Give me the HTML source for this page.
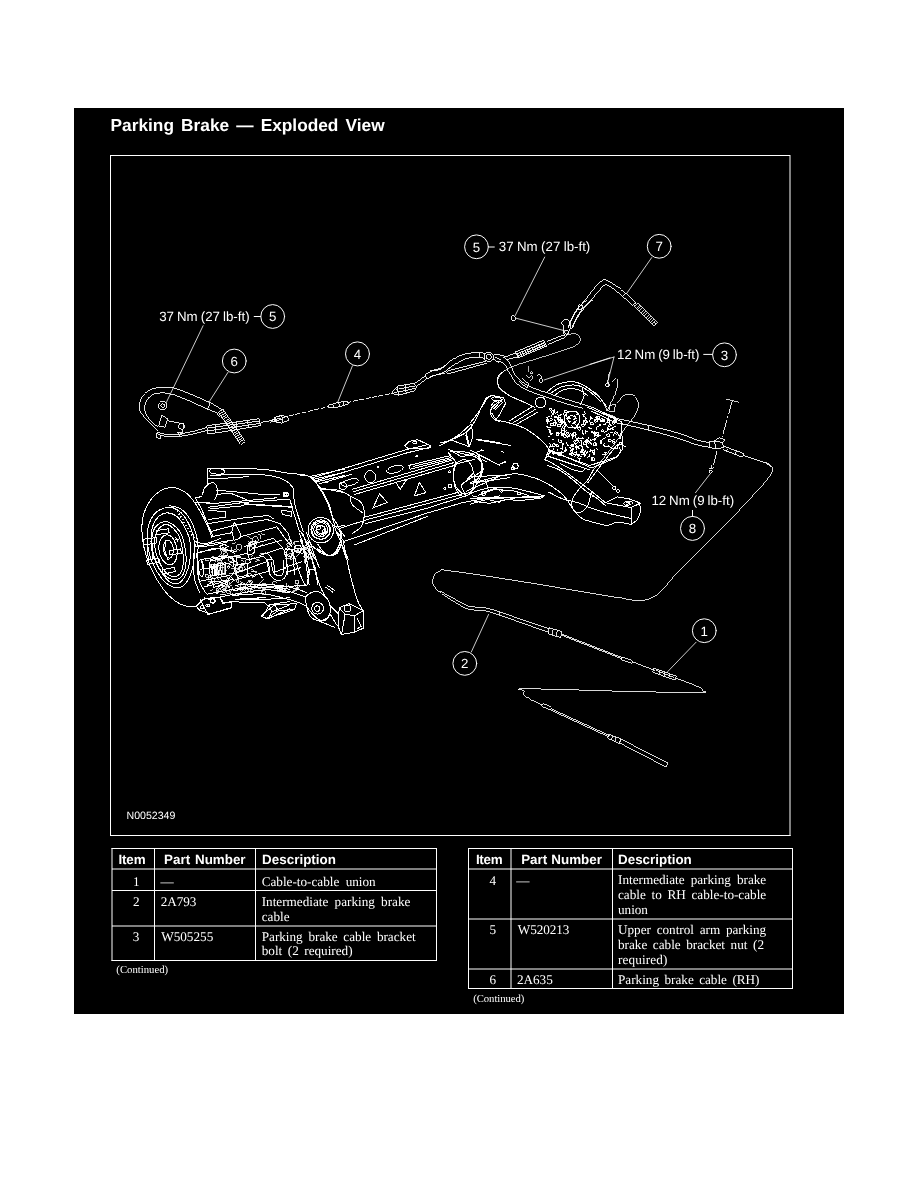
<!DOCTYPE html>
<html><head><meta charset="utf-8">
<style>
html,body{margin:0;padding:0;background:#fff;}
body{width:918px;height:1188px;position:relative;overflow:hidden;font-family:"Liberation Sans",sans-serif;color:#fff;}
#panel{position:absolute;left:74px;top:108px;width:770px;height:906px;background:#000;}
#dia{position:absolute;left:0;top:0;width:918px;height:1188px;}
text{white-space:pre;}
.s{font-family:"Liberation Sans",sans-serif;}
.sb{font-family:"Liberation Sans",sans-serif;font-weight:bold;}
.r{font-family:"Liberation Serif",serif;}
</style></head><body>
<div id="panel"></div>
<svg id="dia" viewBox="0 0 918 1188" fill="none" stroke="#fff" stroke-width="1" stroke-linecap="round" stroke-linejoin="round">
<g id="frame" shape-rendering="auto" stroke-linecap="butt">
<path d="M110.5 155.5H790 M110.5 155V836 M110 835.5H790.5"/>
<path d="M790 155V836"/>
</g>
<g id="tl" stroke-linecap="butt">
<!-- left table -->
<path d="M111.5 848.5H437 M111.5 960.5H437 M112 848V961 M436.5 848V961 M154.5 848V961 M255.5 848V961"/>
<path d="M112 869H437 M112 890.5H437 M112 926H437"/>
<!-- right table -->
<path d="M468 848.5H793 M468 988.5H793 M468.5 848V989 M792.5 848V989 M511 848V989 M612.5 848V989"/>
<path d="M468 869H793 M468 919H793 M468 969H793"/>
</g>
<g id="art" shape-rendering="crispEdges" stroke-linejoin="miter" stroke-linecap="butt"><!-- 01_callouts.py -->
<circle cx="272.7" cy="316.5" r="11.9" stroke-width="1" shape-rendering="geometricPrecision" stroke-linecap="round" stroke-linejoin="round"/>
<circle cx="234.3" cy="361" r="11.9" stroke-width="1" shape-rendering="geometricPrecision" stroke-linecap="round" stroke-linejoin="round"/>
<path d="M254.2 316.5 L260.8 316.5" stroke-width="1" shape-rendering="geometricPrecision" stroke-linecap="round" stroke-linejoin="round"/>
<path d="M203.1 325.7 L166.1 402.9" stroke-width="0.8" shape-rendering="geometricPrecision" stroke-linecap="round" stroke-linejoin="round"/>
<path d="M228 372.3 L208.8 402.4" stroke-width="0.8" shape-rendering="geometricPrecision" stroke-linecap="round" stroke-linejoin="round"/>
<!-- 10_cable6.py -->
<path d="M158.6 431.3 C156.6 429.2 149.5 422.4 146.3 419 C143.2 415.6 140.9 413.6 139.8 410.8 C138.7 408.1 139 405.5 139.8 402.7 C140.6 399.8 142.3 396.1 144.7 393.7 C147.2 391.2 150.4 389.1 154.5 388 C158.6 386.9 165.1 386.9 169.2 387.2 C173.3 387.4 174.7 388.1 179 389.6 C183.4 391.1 190.2 394 195.4 396.1 C200.5 398.3 205.7 400.5 210.1 402.7 C214.4 404.9 219.6 408.1 221.5 409.2" stroke-width="0.9"/>
<path d="M157.8 427.2 C156.1 425.6 150.2 420.4 148 417.4 C145.8 414.4 145 411.9 144.7 409.2 C144.4 406.5 145 403.5 146.3 401 C147.7 398.6 150.2 395.9 152.9 394.5 C155.6 393.1 159.4 392.9 162.7 392.9 C165.9 392.9 168.9 393.6 172.5 394.5 C176 395.5 179.6 396.8 183.9 398.6 C188.3 400.4 194.7 403.4 198.6 405.1 C202.6 406.9 204.6 407.9 207.6 409.2 C210.6 410.5 215.1 412.2 216.6 412.8" stroke-width="0.9"/>
<path d="M210.1 402.7 L207.6 409.2" stroke-width="0.9"/>
<circle cx="162.7" cy="405.6" r="4.1" stroke-width="0.9"/>
<circle cx="162.7" cy="405.6" r="1.8" stroke-width="0.9"/>
<path d="M218.4 412.4 L240.5 444.3 L245 441.1 L223 409.3 Z M219.6 414.2 L224.2 411 M220.9 416 L225.4 412.8 M222.1 417.7 L226.6 414.6 M223.3 419.5 L227.9 416.3 M224.5 421.3 L229.1 418.1 M225.8 423.1 L230.3 419.9 M227 424.8 L231.5 421.7 M228.2 426.6 L232.8 423.4 M229.4 428.4 L234 425.2 M230.7 430.1 L235.2 427 M231.9 431.9 L236.5 428.7 M233.1 433.7 L237.7 430.5 M234.3 435.4 L238.9 432.3 M235.6 437.2 L240.1 434.1 M236.8 439 L241.4 435.8 M238 440.8 L242.6 437.6 M239.2 442.5 L243.8 439.4" stroke-width="0.9"/>
<path d="M216.6 412.8 L219.1 416.6" stroke-width="0.9"/>
<path d="M157 432.1 C158.7 432.5 163.9 434.2 167.6 434.5 C171.3 434.9 174.4 434.7 179 434.1 C183.6 433.4 190.7 431.9 195.4 430.8 C200 429.7 204.9 428.1 206.8 427.5" stroke-width="0.9"/>
<path d="M158.6 434.5 C160.1 434.9 163.9 436.4 167.6 436.7 C171.3 436.9 176 436.7 180.7 436.2 C185.3 435.6 191 434.4 195.4 433.4 C199.7 432.4 204.9 430.9 206.8 430.5" stroke-width="0.9"/>
<path d="M206.8 425.6 L228 423.1 L259.1 418.7 L260.7 425.6 L229.7 430.8 L207.6 434.1 Z" stroke-width="0.9"/>
<path d="M208.4 428 L259.9 421" stroke-width="0.9"/>
<path d="M208.4 430.8 L260.4 423.3" stroke-width="0.9"/>
<path d="M215 424.7 L215.8 432.9" stroke-width="0.9"/>
<path d="M236.2 422 L237 429.6" stroke-width="0.9"/>
<path d="M247.6 420.3 L248.5 427.5" stroke-width="0.9"/>
<path d="M260.7 422.3 C262.1 422.1 266.2 421.5 268.9 421 C271.6 420.4 275.7 419.3 277.1 419" stroke-width="0.9"/>
<path d="M274.6 417.4 L280 416.1" stroke-width="0.9"/>
<path d="M274.6 421.5 L280 422.6" stroke-width="0.9"/>
<path d="M274.6 417.4 L274.6 421.5" stroke-width="0.9"/>
<path d="M161.9 414.9 L167.6 419 L165.1 427.2 L158.6 426.4 Z" stroke-width="0.9"/>
<path d="M167.6 420.7 L183.9 423.9 L182.3 432.9 L177.4 432.1" stroke-width="0.9"/>
<circle cx="181.5" cy="426.4" r="2.9" stroke-width="0.9"/>
<path d="M156.1 432.9 L161 435.4 L160.2 439.4 L156.1 437 Z" stroke-width="0.9"/>
<path d="M177.4 432.1 L179 435.4 L182.3 434.5" stroke-width="0.9"/>
<!-- 11_cable4.py -->
<circle cx="357.5" cy="353.9" r="12" stroke-width="1" shape-rendering="geometricPrecision" stroke-linecap="round" stroke-linejoin="round"/>
<path d="M352.4 365.9 L337.6 402.5" stroke-width="0.8" shape-rendering="geometricPrecision" stroke-linecap="round" stroke-linejoin="round"/>
<g stroke-dasharray="5 1.5">
<path d="M270 420.6 L328.8 406.5" stroke-width="0.9"/>
<path d="M346.5 402.5 L395.5 392.7" stroke-width="0.9"/>
</g>
<path d="M270 422.2 L281.8 419.2" stroke-width="0.9"/>
<path d="M274.9 417.3 L281.8 415.3 L287.6 417.3 L288.6 420.2 L281.8 423.1 L275.9 422.2 Z" stroke-width="0.9"/>
<path d="M281.8 415.3 L282.7 423.1" stroke-width="0.9"/>
<path d="M327.8 405.5 L338.6 402.2 L347.5 401.6 L348.4 404.1 L338.6 406.9 L328.8 408 Z" stroke-width="0.9"/>
<path d="M332.7 404.1 L333.7 407.5" stroke-width="0.9"/>
<path d="M338.6 402.2 L339.6 406.9" stroke-width="0.9"/>
<path d="M343.5 402 L344.1 405.5" stroke-width="0.9"/>
<path d="M392.5 390.8 L397.5 385.9 L413.1 383.3 L417.1 386.9 L414.1 390.8 L397.5 395.1 L393.5 394.3 Z" stroke-width="0.9"/>
<path d="M397.5 385.9 L398.4 394.7" stroke-width="0.9"/>
<path d="M405.3 384.5 L406.3 393.1" stroke-width="0.9"/>
<path d="M399.4 388.8 L415.1 385.9" stroke-width="0.9"/>
<path d="M399.4 391.8 L415.1 388.4" stroke-width="0.9"/>
<path d="M395.5 388.8 L397.5 390.8 L395.5 392.7" stroke-width="0.9"/>
<path d="M414.1 383.9 L425.9 375.5" stroke-width="0.9"/>
<path d="M416.1 386.5 L426.9 378.6" stroke-width="0.9"/>
<path d="M424.9 374.7 C426.2 374.1 430.1 371.7 432.7 370.8 C435.4 369.9 437.7 370.8 440.6 369.2 C443.5 367.6 448.4 362.7 450 361.4" stroke-width="0.9"/>
<path d="M426.9 379 C428.2 378.4 431.9 376.5 434.7 375.5 C437.5 374.5 441 374.5 443.5 373.1 C446.1 371.8 448.9 368.2 450 367.3" stroke-width="0.9"/>
<path d="M424.9 374.7 L426.9 379" stroke-width="0.9"/>
<!-- 12_center_top.py -->
<path d="M430 371 C432 370.4 437.8 369.7 441.8 367.6 C445.7 365.6 449.6 361.1 453.5 358.8 C457.5 356.5 461 355 465.3 353.9 C469.5 352.9 475.6 352.5 479 352.5 C482.5 352.5 484.7 353.7 485.9 353.9" stroke-width="0.9"/>
<path d="M430 376.5 C432.3 375.8 439.5 374.3 443.7 372.2 C448 370 451.6 366 455.5 363.7 C459.4 361.4 463.3 359.5 467.3 358.4 C471.2 357.4 476.1 357.3 479 357.3 C482 357.3 483.9 358.2 484.9 358.4" stroke-width="0.9"/>
<path d="M479 352.5 L479.4 357.3" stroke-width="0.9"/>
<path d="M447.6 371 L485.9 361.2" stroke-width="0.9"/>
<path d="M448.6 373.7 L486.9 363.1" stroke-width="0.9"/>
<path d="M447.6 371 C447.5 371.2 446.5 372.1 446.7 372.5 C446.8 373 448.3 373.5 448.6 373.7" stroke-width="0.9"/>
<circle cx="488.8" cy="356.9" r="4.7" stroke-width="0.9"/>
<circle cx="488.8" cy="356.9" r="2.5" stroke-width="0.9"/>
<path d="M492.7 358.8 L498.6 362.7" stroke-width="0.9"/>
<path d="M494.7 356.9 L500.6 359.8" stroke-width="0.9"/>
<path d="M493.7 353.9 C495.2 354.2 499.9 354.4 502.5 355.9 C505.2 357.4 507.5 359.8 509.4 362.7 C511.4 365.7 512.2 370.3 514.3 373.5 C516.4 376.7 518.9 379.5 522.2 382 C525.4 384.4 529.3 386.3 533.9 388.2 C538.5 390.2 544.1 391.8 549.6 393.7 C555.2 395.6 561.4 397.7 567.3 399.6 C573.1 401.5 580.7 403.6 584.9 404.9 C589.2 406.2 591.4 407 592.7 407.5" stroke-width="0.9"/>
<path d="M495.7 361.2 C497 361.5 501.4 361.6 503.5 363.1 C505.7 364.7 506.8 367.9 508.4 370.6 C510.1 373.3 511.4 376.8 513.3 379.4 C515.3 382 517.1 384.2 520.2 386.3 C523.3 388.4 527.4 390.3 532 392.2 C536.5 394.1 542.1 395.8 547.6 397.6 C553.2 399.5 559.4 401.8 565.3 403.5 C571.2 405.3 580 407.5 582.9 408.2" stroke-width="0.9"/>
<path d="M519.2 381.4 L527.1 388.2" stroke-width="0.9"/>
<path d="M522.2 378.4 L529 384.3" stroke-width="0.9"/>
<path d="M527.1 388.2 L529 384.3" stroke-width="0.9"/>
<path d="M502.5 357.3 L516.3 352.9" stroke-width="0.9"/>
<path d="M505.5 359.8 L518.2 356.9" stroke-width="0.9"/>
<path d="M515.3 352 L543.7 340.2 L546.7 346.1 L518.2 357.8 Z" stroke-width="0.9"/>
<g stroke-width="0.8">
<path d="M518.2 353.3 L544.7 342.7" stroke-width="0.9"/>
<path d="M519.2 355.3 L545.7 344.7" stroke-width="0.9"/>
<path d="M517.3 352.5 L519.6 357.3" stroke-width="0.9"/>
<path d="M519.6 351.6 L522 356.3" stroke-width="0.9"/>
<path d="M522 350.6 L524.3 355.3" stroke-width="0.9"/>
<path d="M524.3 349.6 L526.7 354.3" stroke-width="0.9"/>
<path d="M526.7 348.6 L529 353.3" stroke-width="0.9"/>
<path d="M529 347.6 L531.4 352.4" stroke-width="0.9"/>
<path d="M531.4 346.7 L533.7 351.4" stroke-width="0.9"/>
<path d="M533.7 345.7 L536.1 350.4" stroke-width="0.9"/>
<path d="M536.1 344.7 L538.4 349.4" stroke-width="0.9"/>
<path d="M538.4 343.7 L540.8 348.4" stroke-width="0.9"/>
<path d="M540.8 342.7 L543.1 347.5" stroke-width="0.9"/>
<path d="M543.1 341.8 L545.5 346.5" stroke-width="0.9"/>
</g>
<path d="M546.7 341.6 L565.3 334.3" stroke-width="0.9"/>
<path d="M547.6 344.7 L565.3 337.3" stroke-width="0.9"/>
<path d="M563.3 325.5 C563 323.9 561 323.5 561.4 322.5 C561.7 321.6 563.9 319.8 565.3 319.6 C566.7 319.4 568.8 320.3 569.6 321.6 C570.4 322.9 570.6 325.3 570.2 327.5 C569.8 329.6 568.1 332.8 567.3 334.3 C566.4 335.8 565.9 336.6 565.3 336.3 C564.6 335.9 563.7 334.2 563.3 332.4 C563 330.6 563.7 327.1 563.3 325.5 Z" stroke-width="0.9"/>
<circle cx="566.7" cy="332.4" r="2" stroke-width="0.9"/>
<path d="M568.2 327.5 C569.2 325.3 572 318.5 574.1 314.7 C576.2 310.9 578.9 307.4 581 304.9 C583.1 302.5 585.9 300.8 586.9 300" stroke-width="0.9"/>
<path d="M571.2 329.4 C572.2 327.3 574.8 320.6 577.1 316.7 C579.3 312.7 582.3 308.7 584.9 305.9 C587.5 303.1 591.4 301 592.7 300" stroke-width="0.9"/>
<path d="M567.3 334.9 C568.8 334.7 572.5 333.1 575.1 333.7 C577.6 334.4 579.5 336.2 580 338.2 C580.5 340.3 580 342 577.5 344.1 C574.9 346.3 574.8 346.3 567.3 349 C559.7 351.8 550 354.6 539.8 357.8 C529.6 361.1 523.3 362.5 516.3 365.1 C509.2 367.6 508 368.1 504.5 370.6 C501 373.1 500 374.7 498.6 377.5 C497.3 380.2 496.9 381.6 497.6 384.3 C498.4 387.1 499.2 388.4 502.5 391.2 C505.9 393.9 509.4 395.6 514.3 398 C519.2 400.5 524.5 402.4 527.1 403.5" stroke-width="0.75"/>
<ellipse cx="513.3" cy="318.2" rx="2" ry="2.7" transform="rotate(-15 513.3 318.2)" stroke-width="0.9"/>
<path d="M515.9 318.2 L564.9 330.8" stroke-width="0.8" shape-rendering="geometricPrecision" stroke-linecap="round" stroke-linejoin="round"/>
<path d="M610 357.8 L544.1 380" stroke-width="0.8" shape-rendering="geometricPrecision" stroke-linecap="round" stroke-linejoin="round"/>
<circle cx="541" cy="380.4" r="1.8" stroke-width="0.9"/>
<path d="M536.9 375.5 C537.4 375.3 539 373.8 539.8 374.1 C540.6 374.4 541.4 376.9 541.8 377.5" stroke-width="0.9"/>
<circle cx="607.5" cy="384.7" r="1.8" stroke-width="0.9"/>
<path d="M609.4 372.2 L607.5 382.4" stroke-width="0.8"/>
<path d="M528 365.7 L528.4 371.6" stroke-width="0.7"/>
<path d="M526.1 374.5 C526.6 375 528 377.3 529 377.5 C530 377.6 531.3 375.3 532 375.5 C532.6 375.7 533.3 377.5 532.9 378.4 C532.6 379.3 530.5 380.4 530 380.8" stroke-width="0.8"/>
<circle cx="531.6" cy="372.9" r="1" stroke-width="0.8"/>
<!-- 13_cable7.py -->
<circle cx="476.5" cy="246.8" r="11.9" stroke-width="1" shape-rendering="geometricPrecision" stroke-linecap="round" stroke-linejoin="round"/>
<circle cx="659.2" cy="246.3" r="11.9" stroke-width="1" shape-rendering="geometricPrecision" stroke-linecap="round" stroke-linejoin="round"/>
<path d="M489.1 247 L494.3 247" stroke-width="1" shape-rendering="geometricPrecision" stroke-linecap="round" stroke-linejoin="round"/>
<path d="M544.7 257.1 L515.1 315.7" stroke-width="0.8" shape-rendering="geometricPrecision" stroke-linecap="round" stroke-linejoin="round"/>
<path d="M651.7 257.6 L626.9 293.1" stroke-width="0.8" shape-rendering="geometricPrecision" stroke-linecap="round" stroke-linejoin="round"/>
<path d="M568.2 326.5 C569.8 323.3 570.8 318.9 574.8 312.7 C578.7 306.4 580.5 305.6 585.3 299.7 C590.1 293.7 591.5 291.5 595.3 287.1 C599.1 282.8 598.5 282.5 601.6 281.1 C604.6 279.7 602.8 278.3 608.3 281.1 C613.9 283.9 618.9 288.1 625.4 293.1 C631.8 298.2 633.4 300.4 635.9 302.7" stroke-width="0.9"/>
<path d="M572.3 328.2 C573.8 325.2 574.9 321.2 578.8 315.2 C582.7 309.2 584.3 308.4 589 302.7 C593.8 296.9 595.6 294.7 599.1 290.6 C602.6 286.6 601.6 286.4 604.1 285.4 C606.6 284.4 605.6 283.9 609.8 286.4 C614.1 288.9 617.1 291.7 622.4 296.2 C627.6 300.7 630 303.5 632.4 305.7" stroke-width="0.9"/>
<path d="M579 304.7 L582.8 305.7 L581.3 310.2 L577.8 309.2 Z" stroke-width="0.9"/>
<path d="M625.4 293.1 L622.9 296.4" stroke-width="0.9"/>
<path d="M634.1 306.4 L653.7 326 L657.2 322.4 L637.7 302.9 Z M635.8 308.1 L639.3 304.5 M637.4 309.7 L640.9 306.2 M639 311.3 L642.6 307.8 M640.6 313 L644.2 309.4 M642.3 314.6 L645.8 311 M643.9 316.2 L647.4 312.7 M645.5 317.8 L649.1 314.3 M647.1 319.5 L650.7 315.9 M648.8 321.1 L652.3 317.6 M650.4 322.7 L654 319.2 M652 324.4 L655.6 320.8" stroke-width="0.8"/>
<path d="M632.4 305.7 L635.9 302.7" stroke-width="0.9"/>
<path d="M654.2 321.5 L657.4 325.2" stroke-width="0.9"/>
<!-- 14_right_mid.py -->
<circle cx="724.5" cy="354.8" r="11.9" stroke-width="1" shape-rendering="geometricPrecision" stroke-linecap="round" stroke-linejoin="round"/>
<path d="M703.7 354.4 L712.4 354.4" stroke-width="1" shape-rendering="geometricPrecision" stroke-linecap="round" stroke-linejoin="round"/>
<path d="M614 357 L590 364.3" stroke-width="0.8" shape-rendering="geometricPrecision" stroke-linecap="round" stroke-linejoin="round"/>
<path d="M614 357 L607.6 382.6" stroke-width="0.8" shape-rendering="geometricPrecision" stroke-linecap="round" stroke-linejoin="round"/>
<circle cx="607.2" cy="384.9" r="1.8" stroke-width="0.8"/>
<path d="M612.9 381.5 C613.4 381 615.5 377.9 616.3 378.5 C617.1 379.1 618.3 381.9 617.9 384.9 C617.5 387.9 615.4 392.9 614 396.3 C612.6 399.8 610.6 403 609.4 405.5 C608.3 408 607.5 410.3 607.2 411.2" stroke-width="0.85"/>
<path d="M607.2 411.2 C606.6 409.9 605.4 406.1 603.7 403.2 C602 400.3 599.2 396.3 596.9 394.1 C594.6 391.8 591.1 390.6 590 389.9" stroke-width="0.85"/>
<path d="M617.5 403.2 C618.6 401.9 621.6 396.5 624.3 395.2 C627 393.9 631.1 393.7 633.5 395.2 C635.8 396.7 638.3 400.9 638.5 404.3 C638.7 407.8 636.6 412.2 634.6 415.8 C632.6 419.4 629.5 422.1 626.6 426.1 C623.7 430.1 621.3 434.5 617.5 439.8 C613.6 445.1 607.7 453.1 603.7 458.1 C599.7 463.1 595.1 468 593.4 470" stroke-width="0.85"/>
<path d="M609.4 405.5 L615.2 404.3 L614.7 411.2 L608.8 411.2 Z" stroke-width="0.85"/>
<path d="M608.3 414.6 L614.7 416.5 L614 421.5 L607.8 419.7 Z" stroke-width="0.85"/>
<path d="M614.7 418.1 C620.5 419.3 638.3 423 649.5 425.6 C660.6 428.3 673.5 431.6 681.5 434.1 C689.5 436.5 692.9 438.9 697.5 440.3 C702.2 441.7 707.4 442.2 709.4 442.5" stroke-width="0.9"/>
<path d="M612.9 422 C618.6 423.3 636.1 427 647.2 429.7 C658.2 432.5 671.2 436.2 679.2 438.7 C687.2 441.1 690.3 443 695.2 444.4 C700.2 445.8 706.7 446.7 709 447.1" stroke-width="0.9"/>
<path d="M649 425.6 L648.3 430" stroke-width="0.9"/>
<path d="M709 442.1 L714.7 440.9 L722.7 442.5 L723.8 447.1 L718.1 449 L709.4 447.6 Z" stroke-width="0.9"/>
<path d="M714.7 440.9 L715.4 448.5" stroke-width="0.9"/>
<path d="M714.7 440.9 L719.2 437.5 L725 439.8 L722.7 442.5" stroke-width="0.9"/>
<path d="M723.8 446.2 L743.7 453.5" stroke-width="0.9"/>
<path d="M722.7 449.4 L742.1 457.2" stroke-width="0.9"/>
<path d="M742.8 455.4 C744.8 456 751 458 754.7 459.2 C758.4 460.5 762.3 461.5 765 462.7 C767.7 463.9 769.8 465.7 770.7 466.3" stroke-width="0.9"/>
<path d="M727.3 448.5 L726.1 451.7" stroke-width="0.9"/>
<path d="M743.7 453.5 L742.1 457.2" stroke-width="0.9"/>
<path d="M736.4 450.8 L735 454.7" stroke-width="0.9"/>
<g stroke-dasharray="14 2 2 2" stroke-width="0.8">
<path d="M732.3 400.9 L721.5 439.3" stroke-width="0.9"/>
<path d="M717 451.2 L712.4 470" stroke-width="0.9"/>
</g>
<path d="M725.7 399.1 L738.7 402.1" stroke-width="0.8"/>
<!-- 15_right_low.py -->
<circle cx="692.5" cy="528.4" r="12" stroke-width="1" shape-rendering="geometricPrecision" stroke-linecap="round" stroke-linejoin="round"/>
<path d="M692.5 510.4 L692.5 516.5" stroke-width="1" shape-rendering="geometricPrecision" stroke-linecap="round" stroke-linejoin="round"/>
<path d="M695.5 492.7 L709.8 474.3" stroke-width="0.8" shape-rendering="geometricPrecision" stroke-linecap="round" stroke-linejoin="round"/>
<circle cx="710.6" cy="471.6" r="1.6" stroke-width="0.85"/>
<path d="M709.2 468.2 L712.2 468.2" stroke-width="0.85"/>
<path d="M711.8 465.3 L710.6 469.2" stroke-width="0.85"/>
<path d="M766.1 462.4 C767.5 463.4 769.8 463.7 771.4 466.3 C772.9 468.9 773.6 468 772 472.2 C770.3 476.3 769 477 765.1 482 C761.2 486.9 766.7 480.6 757.3 490.8 C747.8 501 743.9 505.6 729.8 520.2 C715.7 534.8 717.9 532.1 704.3 545.7 C690.7 559.3 690.1 559.4 678.8 571.2 C667.6 582.9 669 583 662.2 589.8 C655.4 596.6 658.8 593.8 653.3 596.7 C647.8 599.5 647.8 599.8 641.6 600.6 C635.3 601.4 635.6 600.4 629.8 599.6 C624.1 598.8 622.6 598.2 620 597.6" stroke-width="0.85"/>
<!-- 16_bottom_cables.py -->
<circle cx="464.8" cy="663.4" r="11.9" stroke-width="1" shape-rendering="geometricPrecision" stroke-linecap="round" stroke-linejoin="round"/>
<circle cx="704.3" cy="630.7" r="11.9" stroke-width="1" shape-rendering="geometricPrecision" stroke-linecap="round" stroke-linejoin="round"/>
<path d="M471.3 652 L488.6 614.4" stroke-width="0.8" shape-rendering="geometricPrecision" stroke-linecap="round" stroke-linejoin="round"/>
<path d="M696.1 642.2 L667.7 671.6" stroke-width="0.8" shape-rendering="geometricPrecision" stroke-linecap="round" stroke-linejoin="round"/>
<path d="M620 597.7 C613.7 596.8 623.7 598.6 596.5 594.1 C569.3 589.7 556.4 587.1 518 581 C479.7 574.9 473.4 573.9 452.7 571.2 C431.9 568.5 445.5 568.9 440.3 570.9 C435 572.9 434.3 574.1 433.1 578.8 C431.9 583.5 433.5 584.9 435.7 588.6 C437.9 592.2 439.8 591.4 441.2 592.5" stroke-width="0.85"/>
<path d="M440.3 591.2 C442.9 592.6 451.2 597.2 455.9 599.7 C460.7 602.2 464.1 604.8 469 606.2 C473.9 607.6 479.9 606.8 485.4 607.8 C490.8 608.9 490.9 609.2 501.7 612.7 C512.5 616.3 542 626.4 550.1 629.1" stroke-width="0.85"/>
<path d="M441.6 593.8 C443.9 595.2 450.8 599.7 455.3 602.3 C459.8 604.8 463.5 607.7 468.4 609.2 C473.3 610.6 479.3 609.7 484.7 610.8 C490.2 611.9 490.4 612.1 501 615.7 C511.7 619.3 540.8 629.6 548.8 632.4" stroke-width="0.85"/>
<path d="M500.1 612.1 L499.1 615.4" stroke-width="0.85"/>
<path d="M549.1 627.8 L562.2 631.7 L560.5 637.6 L548.1 633.7 Z" stroke-width="0.85"/>
<path d="M553.3 629.1 L552 635" stroke-width="0.85"/>
<path d="M557.3 630.4 L555.9 636.3" stroke-width="0.85"/>
<path d="M562.2 634.3 L622.6 657.8" stroke-width="0.85"/>
<path d="M561.5 635.6 L622 659.2" stroke-width="0.85"/>
<path d="M622 657.2 L632.4 660.5 L631.8 663.1 L621.3 659.8 Z" stroke-width="0.85"/>
<path d="M632.4 661.8 L654.6 670.3" stroke-width="0.85"/>
<path d="M654 668.3 L676.5 676.1 L674.9 680.1 L652.7 672.2 Z" stroke-width="0.85"/>
<path d="M660.2 670.3 L658.6 674.8" stroke-width="0.85"/>
<path d="M665.1 671.9 L663.8 676.8" stroke-width="0.85"/>
<path d="M670 673.9 L668.7 678.4" stroke-width="0.85"/>
<path d="M655.9 670.3 L674.2 677.5" stroke-width="0.85"/>
<path d="M675.9 678.1 C681 680.1 691.6 683.7 697.8 686.6 C704 689.5 702.4 689.2 702.4 690.5 C702.4 691.9 714.1 692.3 697.8 692.5 C681.5 692.7 671.3 692.3 632.4 691.5 C593.5 690.7 556.3 689 531.1 688.9 C505.9 688.8 525.6 689.3 524.6 691.2 C523.5 693.1 522.3 693.9 526.5 697.1 C530.7 700.3 538.8 703.1 542.5 704.9" stroke-width="0.85"/>
<path d="M542.5 703.6 L551.4 707.5 L550.1 710.1 L541.6 706.2 Z" stroke-width="0.85"/>
<path d="M550.7 708.5 L609.5 735.6" stroke-width="0.85"/>
<path d="M550.1 709.8 L608.9 736.9" stroke-width="0.85"/>
<path d="M608.9 734.3 L621 738.9 L619.3 743.5 L607.6 738.2 Z" stroke-width="0.85"/>
<path d="M612.8 735.6 L611.5 740.2" stroke-width="0.85"/>
<path d="M616.1 736.9 L614.8 741.5" stroke-width="0.85"/>
<path d="M620.7 738.9 L667.7 763.1 L666.1 767 L619.3 742.8 Z" stroke-width="0.85"/>
<!-- 20_drum.py -->
<path d="M211.9 537.6 C211.3 536 210.5 532.5 208.4 528 C206.4 523.5 203.2 516.2 199.7 510.5 C196.2 504.9 192.2 497.8 187.5 494 C182.9 490.2 177.1 487.5 171.8 487.5 C166.6 487.5 160.5 490.4 156.1 494 C151.8 497.5 148.1 503.4 145.7 508.8 C143.3 514.2 142.1 519.8 141.9 526.2 C141.6 532.6 142.4 540.2 143.9 547.1 C145.5 554.1 147.7 561.1 150.9 568.1 C154.1 575 159 583.5 163.1 589 C167.2 594.5 171.2 598.3 175.3 601.2 C179.4 604.1 183.9 605.7 187.5 606.4 C191.1 607.1 194.2 607 197.1 605.5 C200 604.1 203.6 599 204.9 597.7" stroke-width="1"/>
<path d="M167.8 507.4 C171.5 507.2 175.5 508.4 178.8 510.7 C182.1 513.1 185.1 517.5 187.5 521.5 C189.9 525.5 191.9 530.4 193.1 534.8 C194.3 539.2 194.6 543.1 194.7 547.8 C194.7 552.6 194.4 558.4 193.6 563.2 C192.8 567.9 191.4 572.8 189.8 576.4 C188.2 580.1 186.2 583.3 184.2 585.1 C182.2 587 180.3 587.8 177.8 587.8 C175.2 587.8 171.8 587 168.9 585.1 C165.9 583.3 162.9 580.1 160.2 576.4 C157.4 572.8 154.5 567.9 152.5 563.2 C150.5 558.4 149 553 148.1 547.8 C147.3 542.7 146.9 537.1 147.3 532.5 C147.6 527.9 148.8 523.9 150.4 520.5 C152 517 153.9 513.9 156.8 511.8 C159.7 509.6 164.2 507.6 167.8 507.4 Z" stroke-width="1"/>
<path d="M166.8 512.8 C169.7 512.8 173.6 513.9 176.5 516.1 C179.4 518.3 182.1 522.4 184.2 526.1 C186.3 529.7 188.2 534.1 189.3 538.1 C190.3 542.1 190.6 545.9 190.7 550.1 C190.7 554.3 190.2 559.2 189.4 563.2 C188.6 567.2 187.4 571.1 185.9 574.2 C184.5 577.3 182.5 580.2 180.9 581.8 C179.3 583.5 178.5 584 176.5 583.9 C174.5 583.8 171.3 583.1 168.9 581.3 C166.4 579.5 164.2 576.5 161.9 573.1 C159.6 569.7 157 565.3 155.3 561.1 C153.5 556.9 152.1 552.2 151.4 547.8 C150.8 543.5 150.9 538.8 151.3 534.8 C151.6 530.8 152.2 526.9 153.5 523.8 C154.8 520.7 156.9 518 159.1 516.1 C161.3 514.3 163.9 512.8 166.8 512.8 Z" stroke-width="1"/>
<path d="M168.9 505.7 C170.9 506.2 177.2 506.5 180.9 509 C184.6 511.4 188.3 516.2 190.8 520.5 C193.4 524.8 195 530.6 196.2 534.8 C197.4 539 197.7 543.9 198 545.8" stroke-width="1"/>
<g stroke-width="0.7">
<path d="M171 506.7 L172.5 505.5" stroke-width="1"/>
<path d="M172.8 508.1 L174.4 506.9" stroke-width="1"/>
<path d="M174.6 510.1 L176.2 508.9" stroke-width="1"/>
<path d="M176.5 512.3 L178 511.1" stroke-width="1"/>
<path d="M178.3 514.8 L179.9 513.6" stroke-width="1"/>
<path d="M180.1 517.4 L181.7 516.2" stroke-width="1"/>
<path d="M182 520.1 L183.5 518.9" stroke-width="1"/>
<path d="M183.8 522.9 L185.4 521.7" stroke-width="1"/>
<path d="M185.7 525.9 L187.2 524.7" stroke-width="1"/>
<path d="M187.5 528.9 L189.1 527.7" stroke-width="1"/>
<path d="M189.3 532.1 L190.9 530.9" stroke-width="1"/>
<path d="M191.2 535.3 L192.7 534.1" stroke-width="1"/>
<path d="M193 538.6 L194.6 537.3" stroke-width="1"/>
<path d="M194.8 541.9 L196.4 540.7" stroke-width="1"/>
</g>
<path d="M167.5 521.9 C163.6 521 158.8 523.5 156.1 526.2 C153.5 529 152.2 533.8 151.8 538.4 C151.4 543.1 151.9 548.6 153.5 554.1 C155.1 559.6 158.3 567.3 161.4 571.5 C164.4 575.8 168.5 578.5 171.8 579.4 C175.2 580.3 179.1 579.2 181.4 576.8 C183.7 574.3 185.2 569.5 185.8 564.6 C186.4 559.6 185.9 552.7 184.9 547.1 C183.9 541.6 182.6 535.7 179.7 531.5 C176.8 527.2 171.4 522.7 167.5 521.9 Z" stroke-width="1"/>
<path d="M167.5 524.5 C164.3 523.6 160.9 526.4 158.8 528.8 C156.6 531.3 155.2 535.2 154.7 539.3 C154.3 543.4 154.7 548.3 156.1 553.2 C157.5 558.2 160.5 565.1 163.1 568.9 C165.7 572.8 169.1 575.6 171.8 576.4 C174.6 577.3 177.8 576.3 179.7 574.2 C181.6 572 182.7 568.1 183.2 563.7 C183.6 559.3 183.2 553 182.3 548 C181.4 543.1 180.4 538 177.9 534.1 C175.5 530.2 170.7 525.4 167.5 524.5 Z" stroke-width="1"/>
<path d="M167.5 534.9 C165.4 534.8 162.8 536.1 161.4 538.4 C159.9 540.8 158.6 545.4 158.8 548.9 C158.9 552.4 160.5 556.7 162.2 559.3 C164 562 167 564.3 169.2 564.6 C171.4 564.9 174 563.4 175.3 561.1 C176.6 558.8 177.3 554.3 177.1 550.6 C176.8 547 175.2 541.9 173.6 539.3 C172 536.7 169.5 535.1 167.5 534.9 Z" stroke-width="1"/>
<path d="M167.5 540.2 C166.2 540.2 164.7 541.9 164 543.7 C163.3 545.4 163 548.5 163.5 550.6 C163.9 552.8 165.4 555.6 166.6 556.7 C167.9 557.9 169.9 558.5 171 557.6 C172.1 556.7 173.1 553.8 173.2 551.5 C173.4 549.2 172.8 545.5 171.8 543.7 C170.9 541.8 168.8 540.2 167.5 540.2 Z" stroke-width="1"/>
<path d="M165.7 541.9 C165.6 543.4 164.4 547.6 164.9 550.6 C165.3 553.7 167.8 558.6 168.3 560.2" stroke-width="1"/>
<path d="M143.1 539.3 L156.1 537.6 L157 542.8 L143.9 545.1 Z" stroke-width="1"/>
<path d="M156.1 530.6 L168.3 528.8 L169.2 532.9 L157 534.6 Z" stroke-width="1"/>
<path d="M169.2 550.6 L180.5 548.9 L181.4 553.2 L170.1 555 Z" stroke-width="1"/>
<path d="M162.2 569.8 L174.4 567.2 L175.3 571.5 L163.1 574.2 Z" stroke-width="1"/>
<path d="M146.6 560.2 L158.8 558 L159.6 562 L147.4 564.6 Z" stroke-width="1"/>
<path d="M147.4 545.1 L148.3 561.1" stroke-width="1"/>
<path d="M152.3 543.7 L153 559.7" stroke-width="1"/>
<path d="M175.3 536.7 L177.9 541.9" stroke-width="1"/>
<path d="M174.4 540.2 L178.8 539.3" stroke-width="1"/>
<path d="M195.4 543.7 C195.1 546 193.8 551.8 193.6 557.6 C193.5 563.4 193.5 572.7 194.5 578.5 C195.5 584.3 198.8 590.1 199.7 592.5" stroke-width="1"/>
<path d="M198.3 545.4 C198.1 548.6 196.9 558.5 197.1 564.6 C197.3 570.7 198.1 577.1 199.7 582 C201.3 586.9 205.5 592.2 206.7 594.2" stroke-width="1"/>
<ellipse cx="201.1" cy="568.1" rx="2.4" ry="8.4" transform="rotate(-5 201.1 568.1)" stroke-width="1"/>
<path d="M196.2 541.9 C197.4 542.2 200.6 543.7 203.2 543.7 C205.8 543.7 209 542.8 211.9 541.9 C214.8 541 219.2 539 220.6 538.4" stroke-width="1"/>
<path d="M198 547.1 L211.9 545.4 L227.6 541.9" stroke-width="1"/>
<path d="M210.2 559.3 L232.8 556.7 L234.6 571.5 L227.6 580.3 L211.9 582 L209.3 571.5 Z" stroke-width="1"/>
<path d="M213.7 564.6 L225 562.8 L225.9 573.3 L214.5 575.4 Z" stroke-width="1"/>
<path d="M215.4 564.9 L215.9 574.7" stroke-width="0.7"/>
<path d="M217.1 564.7 L217.7 574.4" stroke-width="0.7"/>
<path d="M218.9 564.4 L219.4 574.2" stroke-width="0.7"/>
<path d="M220.6 564.1 L221.2 573.9" stroke-width="0.7"/>
<path d="M222.4 563.9 L222.9 573.6" stroke-width="0.7"/>
<path d="M224.1 563.6 L224.6 573.4" stroke-width="0.7"/>
<path d="M211.9 582 L213.7 587.2 L227.6 584.6 L227.6 580.3" stroke-width="1"/>
<path d="M206.7 585.5 L211.9 582" stroke-width="1"/>
<path d="M206.7 594.2 C211.3 593.3 225.3 590.4 234.6 589 C243.9 587.6 253.2 585.8 262.5 585.8 C271.7 585.9 285.4 588.7 290 589.3" stroke-width="1"/>
<path d="M208.4 599.4 C212.8 598.6 225 595.8 234.6 594.2 C244.2 592.6 256.7 590.1 265.9 589.8 C275.2 589.6 286 592.3 290 592.8" stroke-width="1"/>
<path d="M211.9 613.4 L231.1 608.1 L232 602 L222.4 603.3 L220.6 597.7" stroke-width="1"/>
<path d="M234.6 599.8 L265.9 599.4 L290 597.7" stroke-width="1"/>
<path d="M239.8 598.6 L265.9 597.7" stroke-width="1"/>
<path d="M220.6 597.7 L211.9 597.7 L203.2 599.4 L196.2 606.4 L199.7 610.2 L210.5 613.7" stroke-width="1"/>
<circle cx="212.8" cy="600.8" r="2.4" stroke-width="1"/>
<circle cx="202.3" cy="607.3" r="1.7" stroke-width="1"/>
<circle cx="206.7" cy="605.5" r="1" stroke-width="1"/>
<path d="M262.5 616.9 L269.4 604.7 L290 601.5" stroke-width="1"/>
<path d="M262.5 616.9 L268 619 L290 608.5" stroke-width="1"/>
<path d="M269.4 604.7 L271.5 612 L268 619" stroke-width="1"/>
<path d="M271.5 612 L290 604.7" stroke-width="1"/>
<!-- 21_upperarm.py -->
<path d="M207.3 468.4 C213.9 468.5 222.7 468.5 235.8 468.7 C249 469 251.8 468.4 263.6 469.4 C275.4 470.4 275.8 471.3 286.5 473 C297.2 474.7 301.8 473.1 309.4 476.6 C317 480 315 481.7 319.2 487.7 C323.4 493.7 324.3 495.5 327.4 502.4 C330.4 509.2 330.4 511.4 332.3 517.1 C334.1 522.8 334.5 524.6 335.2 526.9" stroke-width="1"/>
<path d="M207.3 468.4 L207.3 484.4 L204 488.5" stroke-width="1"/>
<ellipse cx="217.1" cy="471.3" rx="7.4" ry="2.8" transform="rotate(3 217.1 471.3)" stroke-width="1"/>
<path d="M209.7 475.4 C216.8 475.2 241.6 474.1 252.2 474.3 C262.8 474.4 267.7 475.1 273.4 476.2 C279.2 477.4 283.2 479.2 286.5 481.1 C289.8 483.1 291.9 486.6 293 487.7" stroke-width="1"/>
<path d="M208.1 478.7 L230.9 477.9 L248.9 476.6" stroke-width="1"/>
<path d="M202.4 495 C202.8 493.8 203.3 489.7 204.8 487.7 C206.3 485.6 209.4 483.2 211.3 482.8 C213.2 482.4 215.3 483.3 216.2 485.2 C217.2 487.1 217.3 491.8 217.1 494.2 C216.8 496.7 215 499 214.6 499.9" stroke-width="1"/>
<path d="M195 497.5 L202.4 496.7" stroke-width="1"/>
<path d="M195 502.4 L214.6 503.2" stroke-width="1"/>
<path d="M195 497.5 L201.5 508.9 L208.9 526.9 L213 536.7" stroke-width="1"/>
<path d="M216.2 490.1 L260.4 494.2 L280 494.2" stroke-width="1"/>
<path d="M217.9 494.2 L230.9 493.4 L247.3 499.9" stroke-width="1"/>
<circle cx="285.7" cy="494.5" r="2.5" stroke-width="1"/>
<circle cx="285.7" cy="494.5" r="1.1" stroke-width="1"/>
<path d="M208.1 507.3 L244 502.4 L289.8 499.1" stroke-width="1"/>
<path d="M206.4 504 L235.8 501.6 L276.7 497.8" stroke-width="1"/>
<path d="M244 504 L293 507" stroke-width="1.6"/>
<path d="M209.7 508.9 L244 505.7" stroke-width="1"/>
<path d="M208.1 510.6 L226 511.4 L225.2 517.1 L208.1 519.5" stroke-width="1"/>
<path d="M293 487.7 C293.3 490.4 293.6 498.6 294.7 504 C295.8 509.5 298.2 515.7 299.6 520.4 C301 525 302.6 529.9 303.2 531.8" stroke-width="1"/>
<path d="M289.8 499.1 C290.3 501 291.4 505.1 293 510.6 C294.7 516 298.5 528.3 299.6 531.8" stroke-width="1"/>
<path d="M281.6 510.6 L291.4 511.4 L291.4 516.3 L282.4 514.6 Z" stroke-width="1"/>
<circle cx="320.8" cy="530.2" r="12.7" stroke-width="1"/>
<circle cx="320.8" cy="530.2" r="9" stroke-width="1"/>
<circle cx="320.8" cy="530.2" r="4.9" stroke-width="1"/>
<circle cx="318.4" cy="527.7" r="2" stroke-width="1"/>
<circle cx="324.1" cy="531.8" r="2" stroke-width="1"/>
<path d="M333.6 525.3 C334.7 526.4 339.1 528.8 340.4 531.8 C341.8 534.8 342.4 539.7 341.6 543.2 C340.8 546.8 337.9 551.1 335.5 553 C333.2 555 330.3 555.8 327.4 555 C324.4 554.2 319.2 549.6 317.5 548.5" stroke-width="1"/>
<path d="M307.7 536.7 C308.6 538.3 309.9 543.8 312.6 546.5 C315.4 549.2 322.2 551.9 324.1 553" stroke-width="1"/>
<path d="M309.4 476.6 L345 468.9" stroke-width="1"/>
<path d="M312.6 479.5 L345 472.2" stroke-width="1"/>
<path d="M315.9 482 L345 475.4" stroke-width="1"/>
<path d="M319.2 487.7 L345 492.9" stroke-width="1"/>
<path d="M335.5 526.9 L345 525.3" stroke-width="1"/>
<circle cx="342.9" cy="486" r="3.6" stroke-width="1"/>
<path d="M337.2 531.8 L345 543.2" stroke-width="1"/>
<path d="M338.8 528.5 L345 536.7" stroke-width="1"/>
<path d="M208.1 523.6 L244 517.9 L268.5 515.5 L273.4 518.7" stroke-width="1"/>
<path d="M209.7 531.8 L234.2 525.3 L266.9 519.5 L280 523.6 L288.1 533.4 L291.7 544.1" stroke-width="1"/>
<path d="M234.2 522 C234.8 523.1 236.7 526.1 237.8 528.5 C238.9 531 241.4 534.7 240.8 536.7 C240.2 538.7 235.3 539.7 234.2 540.3" stroke-width="1"/>
<path d="M234.2 522 L231.8 531.8 L234.2 540.3" stroke-width="1"/>
<path d="M211.3 536.7 L232.6 532.6" stroke-width="1"/>
<path d="M195 546.5 L232.6 540" stroke-width="1"/>
<path d="M240.8 536.7 L276.7 526.9 L286.5 540 L291.7 546.5" stroke-width="1"/>
<path d="M244 546.5 L273.4 538.3 L281.6 546.5 L285.7 553" stroke-width="1"/>
<path d="M248.9 543.2 L255.5 540.8 L253.8 548.1 L249.7 550.6 Z" stroke-width="1"/>
<path d="M219.5 546.5 L224.4 544.1 L227.7 546.5 L222.8 549.8 Z" stroke-width="1"/>
<circle cx="297.9" cy="549" r="3.6" stroke-width="1"/>
<circle cx="289.8" cy="553" r="3.3" stroke-width="1"/>
<circle cx="302" cy="551.4" r="2" stroke-width="1"/>
<path d="M286.5 553 L287.3 574.9" stroke-width="1"/>
<path d="M293 554.7 L294.7 574.9" stroke-width="1"/>
<path d="M302.8 533.4 L309.4 553 L315.9 569.4" stroke-width="1"/>
<path d="M306.1 531.8 L312.6 549.8 L319.2 567.7" stroke-width="1"/>
<path d="M299.6 533.4 L306.1 556.3 L309.4 574.9" stroke-width="1"/>
<path d="M198.3 553 L214.6 548.1 L235.8 551.4" stroke-width="1"/>
<path d="M209.7 561.2 L232.6 556.3 L248.9 559.6 L263.6 556.3" stroke-width="1"/>
<path d="M211.3 566.1 L213 574.9" stroke-width="1"/>
<path d="M216.2 564.5 L217.1 574.9" stroke-width="1"/>
<path d="M263.6 556.3 C264.4 557.4 267.6 559.7 268.5 562.8 C269.5 565.9 269.2 572.9 269.3 574.9" stroke-width="1"/>
<path d="M266.9 553 C268 554.4 272.2 557.6 273.4 561.2 C274.7 564.9 274.1 572.6 274.2 574.9" stroke-width="1"/>
<path d="M235.8 556.3 L247.3 553 L250.6 562.8 L237.5 564.5 Z" stroke-width="1"/>
<path d="M273.4 572.6 L286.5 567.7" stroke-width="1"/>
<path d="M266.9 559.6 L273.4 559.6" stroke-width="1"/>
<path d="M196.6 553 L198.3 574.9" stroke-width="1"/>
<path d="M201.5 559.6 L203.2 569.4" stroke-width="1"/>
<!-- 22_lowerarm.py -->
<path d="M233.3 590.6 C238.6 590 255.6 586.9 264.7 587.1 C273.9 587.2 281.4 589.7 288.2 591.4 C295.1 593 302.9 595.9 305.9 596.9" stroke-width="1"/>
<path d="M232.4 595.5 C237.4 595.2 253.8 593.4 262.7 593.9 C271.7 594.5 279.4 597 286.3 598.8 C293.1 600.6 300 602.7 303.9 604.7 C307.8 606.7 307.5 608.6 309.8 611 C312.1 613.3 315 617.3 317.6 618.8 C320.3 620.4 323.5 621.1 325.5 620.4 C327.5 619.7 329.1 615.5 329.8 614.5" stroke-width="1"/>
<path d="M264.7 584.1 C268.6 584.5 281.2 585.3 288.2 586.7 C295.3 588.1 303.8 591.6 306.9 592.5" stroke-width="1"/>
<path d="M305.9 596.9 C307.4 594.3 312.4 591.4 315.7 591.4 C319 591.4 323 594.3 325.5 596.9 C327.9 599.4 330.1 603.2 330.4 606.7 C330.7 610.1 329.6 615.2 327.5 617.5 C325.3 619.7 320.6 620.7 317.6 620.4 C314.7 620.1 311.6 617.8 309.8 615.5 C308 613.2 307.5 609.8 306.9 606.7 C306.2 603.6 304.4 599.4 305.9 596.9 Z" stroke-width="1"/>
<circle cx="317.6" cy="608.2" r="5.9" stroke-width="1"/>
<circle cx="317.3" cy="608.6" r="2.7" stroke-width="1"/>
<path d="M307.8 540 C308.5 543.3 309.8 552.1 311.8 559.6 C313.7 567.1 317.3 578.9 319.6 585.1 C321.9 591.3 324.5 594.9 325.5 596.9" stroke-width="1"/>
<path d="M343.1 540 C344.1 544.9 346.7 559.6 349 569.4 C351.3 579.2 354.5 592 356.9 598.8 C359.2 605.7 362.1 608.6 363.1 610.6" stroke-width="1"/>
<path d="M302 540 C302.6 543.9 304.7 555.9 305.9 563.5 C307.1 571.1 308.7 581.8 309.2 585.5" stroke-width="1"/>
<path d="M294.1 555.7 C295.4 559.6 300 574.2 302 579.2 C303.9 584.2 305.2 584.4 305.9 585.5" stroke-width="1"/>
<path d="M264.7 587.1 L306.9 585.5 L309.8 569.4 L315.7 569.4 L317.6 585.1" stroke-width="1"/>
<path d="M317.6 543.9 C319 545.6 322.5 551.9 325.5 553.7 C328.4 555.5 332.8 555.7 335.3 554.7 C337.7 553.7 339.2 550.3 340.2 547.8 C341.2 545.4 341.3 541.3 341.6 540" stroke-width="1"/>
<path d="M339.2 607.6 L349 603.7 L363.1 610.6 L363.1 628.2 L354.9 632.2 L341.2 634.5 L338.2 626.3 Z" stroke-width="1"/>
<path d="M339.2 607.6 L345.1 614.5 L354.9 615.5 L363.1 610.6" stroke-width="1"/>
<path d="M345.1 614.5 L341.6 634.1" stroke-width="1"/>
<path d="M354.9 615.5 L354.9 632.2" stroke-width="1"/>
<circle cx="347.5" cy="608.6" r="3.3" stroke-width="1"/>
<path d="M356.9 617.5 L361.2 626.3 L356.9 629.2" stroke-width="1"/>
<path d="M329.4 604.7 L339.2 614.5" stroke-width="1"/>
<path d="M330.4 614.5 L337.6 626.3" stroke-width="1"/>
<path d="M317.6 620.4 L335.3 627.6" stroke-width="1"/>
<path d="M325.5 587.1 L333.3 592.5" stroke-width="1"/>
<path d="M327.5 585.5 L334.9 590.6" stroke-width="1"/>
<path d="M261.2 616.1 L274.5 604.7 L296.5 603.7 L294.5 609.6 L266.7 618.4 Z" stroke-width="1"/>
<path d="M274.5 604.7 L278.4 610.6 L266.7 618.4" stroke-width="1"/>
<path d="M278.4 610.6 L294.5 609.6" stroke-width="1"/>
<path d="M231.4 601.8 L264.7 602.7 L269 607.1" stroke-width="1"/>
<path d="M240.2 598.4 L258.8 598.4" stroke-width="1.5"/>
<path d="M200 598.8 L207.8 614.5 L231.4 607.6 L231.4 601.8 L223.5 602.4 L219.6 597.8" stroke-width="1"/>
<circle cx="212.7" cy="600.8" r="2" stroke-width="1"/>
<circle cx="208.8" cy="605.7" r="1.2" stroke-width="1"/>
<path d="M266.7 559.6 C267.2 561.9 268 569.9 269.6 573.3 C271.2 576.8 274 579.4 276.5 580.2 C278.9 581 282.5 580 284.3 578.2 C286.1 576.4 286.9 572.8 287.3 569.4 C287.6 566 286.4 559.6 286.3 557.6" stroke-width="1"/>
<path d="M271 561.6 C271.4 563.2 272.2 569 273.3 571.4 C274.4 573.7 276.1 575.2 277.6 575.7 C279.2 576.2 281.3 575.9 282.4 574.5 C283.4 573.1 283.8 569.9 283.9 567.5 C284.1 565 283.4 560.9 283.3 559.6" stroke-width="1"/>
<path d="M286.3 557.6 C285.9 556.7 284.2 553.4 284.3 551.8 C284.5 550.1 285.9 547.8 287.3 547.8 C288.6 547.8 291.7 550 292.2 551.8 C292.6 553.6 290.5 557.5 290.2 558.6" stroke-width="1"/>
<path d="M200 551.8 L223.5 547.8 L235.3 553.7" stroke-width="1"/>
<path d="M200 559.6 L227.5 555.7 L235.3 561.6 L211.8 567.5 L200 569.4" stroke-width="1"/>
<path d="M211.8 563.5 L212.7 575.3 L225.5 573.3 L225.1 561.6" stroke-width="1"/>
<path d="M214.7 564.5 L215.3 573.7" stroke-width="1"/>
<path d="M217.6 563.9 L218.2 573.3" stroke-width="1"/>
<path d="M220.6 563.5 L221.2 572.9" stroke-width="1"/>
<path d="M200 581.2 L229.4 575.3 L233.3 579.2 L203.9 587.1" stroke-width="1"/>
<path d="M235.3 573.3 L266.7 561.6" stroke-width="1"/>
<path d="M237.3 579.2 L268.6 571.4" stroke-width="1"/>
<path d="M235.3 585.1 L264.7 584.1" stroke-width="1"/>
<path d="M247.1 545.9 L254.9 543.9 L253.9 553.7 L248 554.7 Z" stroke-width="1"/>
<path d="M235.3 565.5 L247.1 563.5 L248 575.3 L237.3 577.3 Z" stroke-width="1"/>
<path d="M217.6 586.1 L227.5 582.2" stroke-width="1"/>
<path d="M219.6 589 L226.5 584.1" stroke-width="1"/>
<path d="M254.9 547.8 L282.4 540" stroke-width="1"/>
<path d="M258.8 555.7 L282.4 547.8" stroke-width="1"/>
<path d="M252.9 577.3 L258.8 573.3 L262.7 578.2" stroke-width="1"/>
<circle cx="298" cy="548.8" r="3.5" stroke-width="1"/>
<path d="M286.3 549.8 L305.9 547.8" stroke-width="1"/>
<path d="M284.3 567.5 L302 561.6" stroke-width="1"/>
<path d="M286.3 572.4 L301 567.5" stroke-width="1"/>
<!-- 23_beam.py -->
<path d="M312 478 L404.6 450.1 L429 444.4" stroke-width="1"/>
<path d="M315.3 481 L406.8 452.9 L430.7 447.1" stroke-width="1"/>
<path d="M318.5 484.1 L352.3 474.1" stroke-width="1"/>
<path d="M352.3 489.3 L452.5 459.9" stroke-width="1"/>
<path d="M352.9 491.9 L453.6 462.7" stroke-width="1"/>
<path d="M354 494.6 L454.7 465.4" stroke-width="1"/>
<path d="M363.2 517.6 L461.2 491.5" stroke-width="1"/>
<path d="M363.8 520.5 L462.3 494.3" stroke-width="1"/>
<path d="M365.4 523.7 L426.4 508.5 L462.3 496.9" stroke-width="1"/>
<path d="M343.6 541.6 L426.4 513.3 L463.4 502.4 L500 495.9" stroke-width="1"/>
<path d="M354.5 544.9 L428.5 515.9" stroke-width="1"/>
<path d="M339.2 528.5 L363.2 520.9" stroke-width="1"/>
<ellipse cx="350.1" cy="482.4" rx="8.7" ry="3.1" transform="rotate(-15 350.1 482.4)" stroke-width="1"/>
<ellipse cx="370.2" cy="476.7" rx="5.4" ry="6.1" transform="rotate(-10 370.2 476.7)" stroke-width="1"/>
<ellipse cx="394.8" cy="469.3" rx="8.7" ry="3.5" transform="rotate(-15 394.8 469.3)" stroke-width="1"/>
<path d="M408.9 465.4 L450.3 455.6 L451.4 458.8 L410 469.3 Z" stroke-width="1"/>
<path d="M413.3 466.4 L450.3 457.7" stroke-width="1"/>
<path d="M373 507.8 L379.5 494.1 L387.6 502.4 Z" stroke-width="1"/>
<path d="M395.9 482.4 L406.8 479.5 L400.2 489.3 Z" stroke-width="1"/>
<path d="M414.4 495.9 L419.4 482.4 L425.9 492.6 Z" stroke-width="1"/>
<circle cx="444.9" cy="488.2" r="1.1" stroke-width="1"/>
<circle cx="449.9" cy="486.1" r="1.7" stroke-width="1"/>
<circle cx="449.2" cy="471.9" r="1.1" stroke-width="1"/>
<circle cx="327.2" cy="482.4" r="0.7" stroke-width="1"/>
<circle cx="378.4" cy="467.1" r="0.7" stroke-width="1"/>
<circle cx="416.6" cy="456.2" r="0.7" stroke-width="1"/>
<path d="M456.9 463.2 C458.9 460.8 463 459.2 465.6 459.9 C468.1 460.6 470.7 464.1 472.1 467.5 C473.6 471 474.7 476.3 474.3 480.6 C473.9 485 472.1 491.1 469.9 493.7 C467.8 496.2 463.7 496.9 461.2 495.9 C458.8 494.8 456.4 490.8 455.1 487.1 C453.8 483.5 453.3 478.1 453.6 474.1 C453.9 470.1 454.9 465.5 456.9 463.2 Z" stroke-width="1"/>
<path d="M461.2 451.2 C463.4 451.7 471 453 474.3 454.5 C477.6 455.9 479.4 457 480.8 459.9 C482.2 462.8 483.7 468.2 482.6 471.9 C481.5 475.6 475.7 480.6 474.3 482.4" stroke-width="1"/>
<path d="M450.3 451.2 L461.2 451.2" stroke-width="1"/>
<path d="M448.1 452.3 L456.9 463.2" stroke-width="1"/>
<path d="M461.2 486.1 L474.3 471.9" stroke-width="1"/>
<path d="M461.2 486.1 L465.6 495.9" stroke-width="1"/>
<path d="M300 475.2 C301.5 475.3 305.4 474.3 308.7 476.3 C312 478.2 316.3 482.8 319.6 487.1 C322.9 491.5 326.1 497.3 328.3 502.4 C330.5 507.5 331.4 512.9 332.7 517.6 C334 522.4 334.1 525.6 335.9 530.7 C337.8 535.8 341.5 543.3 343.6 548.1 C345.6 553 347.6 558 348.4 559.9" stroke-width="1"/>
<path d="M321.8 489.3 C324.7 489.5 334.5 489.3 339.2 490.4 C343.9 491.5 346.5 493.9 350.1 495.9 C353.7 497.9 358.6 499.5 361 502.4 C363.4 505.3 364.2 509.3 364.3 513.3 C364.3 517.3 363.4 523 361.4 526.4 C359.4 529.7 353.8 532.2 352.3 533.3" stroke-width="1"/>
<path d="M350.1 495.9 C350.5 497.3 350.1 501.7 352.3 504.6 C354.5 507.5 361.4 511.8 363.2 513.3" stroke-width="1"/>
<path d="M337 532.9 C337.8 534.7 339.8 539.3 341.4 543.8 C343 548.3 345.9 557.2 346.8 559.9" stroke-width="1"/>
<circle cx="320.7" cy="529.6" r="9.8" stroke-width="1"/>
<circle cx="320.7" cy="529.6" r="7" stroke-width="1"/>
<circle cx="320.7" cy="529.6" r="3.9" stroke-width="1"/>
<path d="M332.7 517.6 C333.8 519.5 337.9 524.5 339.2 528.5 C340.5 532.5 341.4 537.3 340.3 541.6 C339.2 546 335.8 552.7 332.7 554.7 C329.6 556.7 325.1 555 321.8 553.6 C318.5 552.1 314.5 547.2 313.1 546" stroke-width="1"/>
<path d="M300 530.7 C301.1 532.5 304 536.7 306.5 541.6 C309.1 546.5 313.8 556.9 315.3 559.9" stroke-width="1"/>
<path d="M300 539.4 L308.7 559.9" stroke-width="1"/>
<path d="M404.6 445.8 L408.9 441.4 L417.6 439.7 L430.7 445.8 L428.5 448.4 L408.9 449 Z" stroke-width="1"/>
<ellipse cx="415" cy="442.5" rx="2.2" ry="1.1" transform="rotate(-10 415 442.5)" stroke-width="1"/>
<path d="M439.4 445.8 L465.6 432.7" stroke-width="1"/>
<path d="M450.3 439.7 L467.8 446.2" stroke-width="1"/>
<path d="M465.6 434.9 L468.8 446.8" stroke-width="1"/>
<path d="M448.1 449 L461.2 456.6 L474.3 454.5" stroke-width="1"/>
<path d="M476.5 439.2 L500 442.7" stroke-width="1"/>
<path d="M474.3 452.3 L500 465.4" stroke-width="1"/>
<path d="M465.6 491.5 L500 476.3" stroke-width="1"/>
<path d="M485.2 491.5 L500 487.1" stroke-width="1"/>
<path d="M472.1 495.9 L500 502.4" stroke-width="1"/>
<path d="M491.7 413.1 C492.4 414.2 494.7 418.2 496.1 419.6 C497.5 421.1 499.3 421.4 500 421.8" stroke-width="1"/>
<path d="M490.6 406.5 C491.2 405.8 492.3 403.3 493.9 402.2 C495.5 401.1 499 400.4 500 400" stroke-width="1"/>
<!-- 24_rightarm.py -->
<path d="M470 422.9 C470.8 422 476.1 415.7 477.8 413.1 C479.6 410.6 486.7 399 487.6 397.5" stroke-width="1"/>
<path d="M487.6 397.5 L491.6 395.5 L503.3 397.5 L505.7 403.3 L499.4 415.1 L495.5 420" stroke-width="1"/>
<path d="M499.4 401.4 C498.1 402.5 492.9 405.8 491.6 408.2 C490.2 410.7 490.5 414.1 491.2 416.1 C491.8 418 494.8 419.3 495.5 420" stroke-width="1"/>
<path d="M493.5 409.2 L502.4 399.4" stroke-width="1"/>
<ellipse cx="496.5" cy="399" rx="5.5" ry="1.8" transform="rotate(8 496.5 399)" stroke-width="1"/>
<path d="M495.5 420 C498.2 420.6 502.5 420.8 509.2 422.9 C515.9 425.1 521 425.7 528.8 430.8 C536.7 435.9 544.9 442.9 548.4 448.4 C552 453.9 546.9 456.3 546.5 458.2" stroke-width="1"/>
<path d="M544.7 459.6 C546.3 460.4 550.9 462.4 554.5 464.5 C558.1 466.6 562.4 469.6 566.3 472.4 C570.2 475.1 574.1 478.2 578 481.2 C582 484.1 586.2 487.2 589.8 490 C593.4 492.8 597 495.7 599.6 497.8 C602.2 500 604.5 501.9 605.5 502.7" stroke-width="1"/>
<path d="M546.7 465.5 C548.6 466.1 554.2 467.1 558.4 469.4 C562.7 471.7 567.6 475.6 572.2 479.2 C576.7 482.8 581.6 487.7 585.9 491 C590.1 494.2 594.4 496.4 597.6 498.8 C600.9 501.3 604.2 504.5 605.5 505.7" stroke-width="1"/>
<path d="M548.6 492 C550.9 493.1 557.5 497 562.4 498.8 C567.3 500.6 573.5 501.3 578 502.7 C582.6 504.2 585.2 506 589.8 507.6 C594.4 509.3 598.6 510.8 605.5 512.5 C612.4 514.3 626.7 517.5 631 518.4" stroke-width="1"/>
<path d="M470 483.7 C477.9 481.8 497.6 475.8 509.4 474.3 C521.2 472.8 522 474.7 529 476.3 C536.1 477.8 538.8 479.2 544.7 482.2 C550.6 485.1 554.1 487.6 558.4 491 C562.7 494.3 563.1 494.9 566.3 498.8 C569.4 502.7 571 506.7 574.1 510.6 C577.3 514.5 578 516.1 582 518.4 C585.9 520.8 588.6 521 593.7 522.4 C598.8 523.7 602.7 525.3 607.5 525.3 C612.2 525.3 612.5 522.5 617.3 522.4 C622 522.2 628.2 523.9 631 524.3" stroke-width="1"/>
<path d="M631 524.3 L636.9 520.4 L640.4 512.5 L639.8 502.7" stroke-width="1"/>
<path d="M605.5 502.7 L617.3 496.9 L629 498.8 L640.4 503.1" stroke-width="1"/>
<path d="M605.5 502.7 L631 507.6 L640.4 503.1" stroke-width="1"/>
<path d="M631 507.6 L631 524.3" stroke-width="1"/>
<ellipse cx="628" cy="503.1" rx="4.3" ry="2" transform="rotate(-8 628 503.1)" stroke-width="1"/>
<ellipse cx="628" cy="503.1" rx="2.4" ry="1" transform="rotate(-8 628 503.1)" stroke-width="1"/>
<path d="M544.7 459.6 L548.6 450.8 L547.6 445.9" stroke-width="1"/>
<path d="M548.6 450.8 L589.8 465.5 L617.3 456.7" stroke-width="1"/>
<path d="M470 450.4 C471.3 451 475.9 452 477.8 454.3 C479.8 456.6 481.4 460.5 481.8 464.1 C482.1 467.7 481.4 472.9 479.8 475.9 C478.2 478.9 473.6 481 472 482.2 C470.3 483.3 470.3 482.6 470 482.7" stroke-width="1"/>
<path d="M475.9 439.6 L511.2 445.5" stroke-width="1"/>
<path d="M470 454.3 L481.8 450.4" stroke-width="1"/>
<path d="M497.5 465.1 L506.3 461.8" stroke-width="1"/>
<path d="M481.8 459.2 L487.6 462.2" stroke-width="1"/>
<circle cx="515.5" cy="466.1" r="2.7" stroke-width="1"/>
<circle cx="513.1" cy="468.4" r="1.6" stroke-width="1"/>
<path d="M470 476.9 L509.2 474.9" stroke-width="1"/>
<path d="M485.7 479.8 L488.6 491.6" stroke-width="1"/>
<path d="M470 493.5 C473.3 492.5 483.1 488.6 489.6 487.6 C496.1 486.7 502.7 487 509.2 487.6 C515.8 488.3 522.9 490.2 528.8 491.6 C534.7 492.9 541.9 495.2 544.5 495.9" stroke-width="1"/>
<path d="M470 504.3 C473.9 503.3 485.4 499.1 493.5 498.4 C501.7 497.8 510.8 500.5 519 500.4 C527.3 500.3 539 498.3 542.9 497.8" stroke-width="1"/>
<path d="M470 498.4 L544.5 496.7" stroke-width="1.4"/>
<path d="M477.8 495.5 L493.5 489.6 L513.1 490.6 L528.8 495.5" stroke-width="1"/>
<path d="M473.9 501.4 L489.6 503.3 L517.1 497.5" stroke-width="1"/>
<circle cx="483.7" cy="493.5" r="2" stroke-width="1"/>
<circle cx="519" cy="493.5" r="1.6" stroke-width="1"/>
<circle cx="501.4" cy="490.6" r="1.6" stroke-width="1"/>
<path d="M547.5 391.6 C549.2 390.3 553.8 385.8 558.2 384.1 C562.6 382.5 569 381.2 573.9 381.8 C578.8 382.4 583.4 385 587.6 387.6 C591.9 390.3 596.1 394.1 599.4 397.5 C602.7 400.8 605.9 405.9 607.3 407.6" stroke-width="1"/>
<path d="M554.3 395.5 C555.9 394.5 560.2 390.6 564.1 389.6 C568 388.6 573.9 388.6 577.8 389.6 C581.8 390.6 586 394.5 587.6 395.5" stroke-width="1"/>
<path d="M581.8 387.6 C582.2 389 584.4 392.5 584.1 395.5 C583.8 398.4 580.5 403.7 579.8 405.3" stroke-width="1"/>
<path d="M550.4 393.5 C552.4 392.4 557.7 388 562.2 386.7 C566.6 385.3 572.3 384.5 576.9 385.3 C581.4 386.1 585.5 388.7 589.6 391.6 C593.7 394.4 599.4 400.6 601.4 402.4" stroke-width="1"/>
<path d="M592.7 407.5 L615.1 418" stroke-width="1"/>
<path d="M590.8 410.8 L613.1 421.4" stroke-width="1"/>
<circle cx="540.6" cy="402.4" r="5.3" stroke-width="1"/>
<path d="M509.2 421 L532.7 406.3" stroke-width="1"/>
<path d="M512.2 423.3 L535.7 409.2" stroke-width="1"/>
<path d="M514.7 425.3 L537.6 412.2" stroke-width="1"/>
<path d="M505.3 370 C504.2 371 499.7 373.9 498.4 375.9 C497.1 377.8 497.2 379.7 497.5 381.8 C497.7 383.8 497.8 385.8 499.8 388 C501.8 390.3 504.7 392.9 509.2 395.5 C513.7 398 522.6 401.4 526.9 403.3 C531.1 405.3 533.4 406.6 534.7 407.3" stroke-width="1"/>
<path d="M593.3 470 C592.5 471.6 591.3 474 589.6 476.9 C587.9 479.7 589 478.4 585.9 482.2 C582.7 485.9 579.4 488.1 576.1 492.9 C572.8 497.7 572.2 498.6 571.8 502.7 C571.3 506.9 572.2 508.3 574.1 510.6 C576 512.9 577 513.5 580 512.5 C583 511.6 584.6 509.9 586.9 506.7 C589.2 503.5 588.9 502 589.8 498.8 C590.7 495.6 590.6 494.3 590.8 492.9" stroke-width="1"/>
<path d="M616.9 444.9 L603.1 462.5 L587.5 483.1" stroke-width="1"/>
<path d="M597.6 470.4 L613.3 486.1" stroke-width="1"/>
<circle cx="614.3" cy="488" r="1.6" stroke-width="1"/>
<circle cx="618.2" cy="491" r="1.4" stroke-width="1"/>
<path d="M588.6 495.5 L591.6 492.5 L592.5 497.5" stroke-width="1"/>
<path d="M560.4 463.5 C562.4 464.5 568.6 468.1 572.2 469.4 C575.8 470.7 579.8 471.5 582 471.4 C584.1 471.2 584.4 468.9 584.9 468.4" stroke-width="1"/>
<g stroke-width="0.8">
<path d="M581.2 440.4 L581.6 444.2" stroke-width="1"/>
<path d="M591.2 416.9 L589.2 421.5" stroke-width="1"/>
<circle cx="554.5" cy="424.3" r="1.5" stroke-width="1"/>
<circle cx="596.2" cy="443.9" r="0.6" stroke-width="1"/>
<circle cx="561.6" cy="420.5" r="1.1" stroke-width="1"/>
<path d="M580.3 458.2 L578.7 461.5" stroke-width="1"/>
<circle cx="596.8" cy="434" r="1.8" stroke-width="1"/>
<circle cx="600.2" cy="425.1" r="0.9" stroke-width="1"/>
<path d="M553.7 451.9 C553.8 452.2 554.5 453.2 554.4 453.8 C554.3 454.3 553.2 454.9 552.9 455.1" stroke-width="1"/>
<path d="M547.5 418.5 L548 424.2" stroke-width="1"/>
<circle cx="594.4" cy="454.1" r="0.7" stroke-width="1"/>
<circle cx="565.8" cy="411.6" r="1.5" stroke-width="1"/>
<path d="M561.5 442.6 C561.1 442.5 559.5 442.5 559 442 C558.5 441.4 558.7 439.8 558.6 439.4" stroke-width="1"/>
<circle cx="557.2" cy="445.7" r="1.1" stroke-width="1"/>
<path d="M563.3 422.2 L561 423.9" stroke-width="1"/>
<path d="M614.7 416.8 C614.8 417.2 615.7 418.5 615.5 419.1 C615.3 419.8 613.9 420.4 613.6 420.7" stroke-width="1"/>
<path d="M563.3 421.5 L564.8 423.9" stroke-width="1"/>
<path d="M552.9 410.9 L555.9 413.8" stroke-width="1"/>
<path d="M575.1 433.7 L575.4 437.8" stroke-width="1"/>
<circle cx="608.4" cy="420.9" r="1.5" stroke-width="1"/>
<circle cx="592.4" cy="431.7" r="0.6" stroke-width="1"/>
<path d="M619.2 420.3 L622.7 424" stroke-width="1"/>
<circle cx="591.9" cy="423.7" r="1.4" stroke-width="1"/>
<path d="M552.6 419.6 L548.8 421.5" stroke-width="1"/>
<circle cx="567.5" cy="433.3" r="0.8" stroke-width="1"/>
<circle cx="574.9" cy="441.2" r="1" stroke-width="1"/>
<path d="M596.4 448.7 L598 449.4" stroke-width="1"/>
<path d="M548.8 443.5 C549.1 443.7 550.3 444 550.5 444.4 C550.8 444.9 550.3 446 550.3 446.3" stroke-width="1"/>
<path d="M588.1 451.5 L585 454.9" stroke-width="1"/>
<path d="M573.7 448.3 L570.6 449.6" stroke-width="1"/>
<path d="M588.3 443.5 C588.6 443.3 589.8 442.3 590.4 442.4 C591.1 442.5 591.9 443.8 592.2 444" stroke-width="1"/>
<path d="M553.4 445.4 L549.1 447.2" stroke-width="1"/>
<path d="M576.4 451.4 L577.4 456.5" stroke-width="1"/>
<circle cx="553.7" cy="452.4" r="1.3" stroke-width="1"/>
<path d="M583.3 419.7 L583.3 424" stroke-width="1"/>
<circle cx="616" cy="421.3" r="0.9" stroke-width="1"/>
<circle cx="598" cy="418" r="1.7" stroke-width="1"/>
<path d="M596.6 433 L598.9 436.8" stroke-width="1"/>
<path d="M562.2 432.3 L557.1 433.8" stroke-width="1"/>
<path d="M577.4 443.4 C577 443.4 575.7 443.9 575.2 443.6 C574.6 443.3 574.3 442 574.2 441.7" stroke-width="1"/>
<path d="M567.8 417.4 C567.6 417.2 566.7 416.7 566.6 416.2 C566.5 415.8 567.1 414.9 567.2 414.6" stroke-width="1"/>
<path d="M577.3 446.8 C577.1 446.4 575.8 445.2 575.8 444.5 C575.8 443.7 577.2 442.6 577.5 442.2" stroke-width="1"/>
<circle cx="620.6" cy="433.7" r="0.6" stroke-width="1"/>
<path d="M600.6 439.9 C600.7 440.1 601.4 440.6 601.4 441 C601.5 441.3 600.9 442 600.8 442.2" stroke-width="1"/>
<circle cx="557.6" cy="433.8" r="1.6" stroke-width="1"/>
<circle cx="565.1" cy="414.1" r="1.3" stroke-width="1"/>
<path d="M580.7 444.8 L576 448.1" stroke-width="1"/>
<path d="M599 418.9 C598.7 418.8 597.9 418.9 597.6 418.7 C597.4 418.4 597.4 417.6 597.3 417.4" stroke-width="1"/>
<circle cx="582.6" cy="450.1" r="0.9" stroke-width="1"/>
<path d="M573.2 449 L571.5 453.6" stroke-width="1"/>
<path d="M576.8 455 L582.2 456.5" stroke-width="1"/>
<path d="M581.2 444.5 L582.8 448.3" stroke-width="1"/>
<path d="M617.8 434.4 L621.6 437.2" stroke-width="1"/>
<path d="M608.4 445.6 L612.7 448.9" stroke-width="1"/>
<path d="M589.6 453.6 C589.6 454 590 455.8 589.5 456.4 C589 457 587.3 457.2 586.8 457.3" stroke-width="1"/>
<path d="M580.3 439.8 L580.4 441.5" stroke-width="1"/>
<circle cx="572.4" cy="454.7" r="0.8" stroke-width="1"/>
<path d="M585.9 450.7 L582.8 455.4" stroke-width="1"/>
<path d="M553.9 419.2 L556.7 422.9" stroke-width="1"/>
<path d="M595.1 438.1 L594.5 441" stroke-width="1"/>
<circle cx="586.5" cy="441.2" r="1.2" stroke-width="1"/>
<circle cx="584.9" cy="443.3" r="1.7" stroke-width="1"/>
<path d="M585.9 430.4 L585.2 434" stroke-width="1"/>
<path d="M587.6 431.3 L584.9 431.9" stroke-width="1"/>
<path d="M583.7 410.9 C584 411.3 585.3 412.6 585.3 413.4 C585.3 414.2 583.8 415.3 583.5 415.7" stroke-width="1"/>
<circle cx="583" cy="425.2" r="1.3" stroke-width="1"/>
<path d="M561.9 419.6 L563.6 422.2" stroke-width="1"/>
<circle cx="585.5" cy="421" r="1.2" stroke-width="1"/>
<path d="M578.6 428.6 C578.8 428.4 579.3 427.6 579.7 427.5 C580.2 427.4 581 428 581.2 428.1" stroke-width="1"/>
<path d="M562.7 444.9 L562.2 450.1" stroke-width="1"/>
<circle cx="593" cy="459.1" r="1.5" stroke-width="1"/>
<path d="M571 425.1 L575.5 428.8" stroke-width="1"/>
<circle cx="565.3" cy="450.9" r="0.7" stroke-width="1"/>
<path d="M609.5 431.7 L612.5 433" stroke-width="1"/>
<path d="M562.4 448.1 L560.4 448.3" stroke-width="1"/>
<path d="M585.1 452.9 L583.8 454.9" stroke-width="1"/>
<circle cx="552.7" cy="412" r="1.2" stroke-width="1"/>
<circle cx="585.8" cy="441" r="0.8" stroke-width="1"/>
<path d="M554.5 409.2 L555.1 414" stroke-width="1"/>
<path d="M571.8 434.6 L572.7 438.7" stroke-width="1"/>
<path d="M548.4 449.3 L551.4 451.2" stroke-width="1"/>
<circle cx="602.5" cy="430.7" r="0.8" stroke-width="1"/>
<path d="M594.3 430.7 L594.3 436.5" stroke-width="1"/>
<path d="M607.4 421.5 L604 425" stroke-width="1"/>
<path d="M608.1 430.7 L603.9 432.4" stroke-width="1"/>
<path d="M604.4 452 C604.6 452.1 605.5 452.3 605.7 452.6 C605.9 453 605.7 453.9 605.6 454.1" stroke-width="1"/>
<circle cx="572.9" cy="434.7" r="1" stroke-width="1"/>
<circle cx="595" cy="444.4" r="1.7" stroke-width="1"/>
<path d="M597.1 426.5 L596.2 430.3" stroke-width="1"/>
<path d="M595.3 449.3 L593.6 449.4" stroke-width="1"/>
<circle cx="593.3" cy="451.6" r="1.1" stroke-width="1"/>
<path d="M552.5 418.5 C552.2 418.6 551.3 419.2 550.8 419.1 C550.4 419 549.8 418 549.7 417.8" stroke-width="1"/>
<path d="M614.9 439.8 L610.9 440.2" stroke-width="1"/>
<path d="M621.6 445.3 L625.6 446.3" stroke-width="1"/>
<path d="M581.6 415.1 C581.9 415 582.6 414.6 583 414.7 C583.4 414.8 583.7 415.7 583.9 415.8" stroke-width="1"/>
<path d="M617.9 431.7 L616.9 434.7" stroke-width="1"/>
<path d="M568.7 446.4 L571.7 450" stroke-width="1"/>
<path d="M561 451.2 C561 451.7 561.5 453.3 561.1 453.9 C560.7 454.5 559.1 454.8 558.7 455" stroke-width="1"/>
<path d="M616.5 432 C616.3 432.2 616.1 433.3 615.7 433.6 C615.3 433.8 614.3 433.5 614 433.5" stroke-width="1"/>
<path d="M601.3 434.7 L597.8 437" stroke-width="1"/>
<path d="M556.4 445.7 C556.2 445.6 555.3 445.5 555 445.2 C554.8 444.9 555 444.1 554.9 443.8" stroke-width="1"/>
<path d="M580.3 449.3 C580 449 578.6 448.4 578.4 447.8 C578.3 447.2 579 445.9 579.2 445.6" stroke-width="1"/>
<path d="M578.7 454.1 L573 454.2" stroke-width="1"/>
<circle cx="602.2" cy="420.3" r="1.6" stroke-width="1"/>
<path d="M605.6 446.7 C605.3 446.5 603.9 445.7 603.7 445 C603.5 444.4 604.5 443.1 604.6 442.7" stroke-width="1"/>
<path d="M589.5 442.4 L587.8 444.1" stroke-width="1"/>
<circle cx="550.4" cy="409.1" r="1.1" stroke-width="1"/>
<path d="M553.9 447.7 L552.6 450.6" stroke-width="1"/>
<path d="M583 416 C583.4 416.3 585.1 416.8 585.4 417.5 C585.7 418.2 584.9 419.8 584.9 420.3" stroke-width="1"/>
<path d="M553 412.8 L551.1 417.3" stroke-width="1"/>
<circle cx="563.3" cy="431.9" r="1.5" stroke-width="1"/>
<path d="M574.9 446.3 L577 449.7" stroke-width="1"/>
<circle cx="579.3" cy="428.5" r="1.6" stroke-width="1"/>
<path d="M553.3 410.5 L553.5 415" stroke-width="1"/>
<circle cx="569.7" cy="454" r="0.8" stroke-width="1"/>
<path d="M570.1 450.8 L571.5 452.5" stroke-width="1"/>
<path d="M575.8 452.4 C575.4 452.5 574 453.2 573.3 453 C572.6 452.7 572.1 451.2 571.8 450.9" stroke-width="1"/>
<path d="M579.3 457.3 C579.2 457 578.3 456.1 578.3 455.6 C578.3 455 579.3 454.2 579.5 454" stroke-width="1"/>
<path d="M564.8 429.4 C564.7 429 564.1 427.9 564.3 427.4 C564.4 426.9 565.6 426.4 565.9 426.2" stroke-width="1"/>
<path d="M576.3 417.5 L573.2 419.9" stroke-width="1"/>
<circle cx="609.8" cy="440.6" r="1.5" stroke-width="1"/>
<circle cx="613.1" cy="423" r="1.2" stroke-width="1"/>
<path d="M588 440.9 L585.7 445.4" stroke-width="1"/>
<path d="M552.2 439.6 L554.1 440.1" stroke-width="1"/>
<circle cx="553.8" cy="445.1" r="1.5" stroke-width="1"/>
<circle cx="595.8" cy="420.7" r="1.5" stroke-width="1"/>
<path d="M584.9 455.6 C584.7 455.1 583.5 453.6 583.7 452.8 C583.8 452 585.4 451 585.8 450.6" stroke-width="1"/>
<path d="M597.6 436.3 L594.6 439.8" stroke-width="1"/>
<path d="M615.6 431.1 L613 435.6" stroke-width="1"/>
<path d="M595.2 438.2 L592.4 440.1" stroke-width="1"/>
<path d="M578.8 414.5 L575.6 414.6" stroke-width="1"/>
<path d="M559.2 420.7 C558.9 420.3 557.4 419.2 557.3 418.4 C557.2 417.6 558.5 416.2 558.7 415.7" stroke-width="1"/>
<circle cx="551.9" cy="424.6" r="1.4" stroke-width="1"/>
<path d="M552.1 434.1 L550.4 434.6" stroke-width="1"/>
<circle cx="555.5" cy="416.9" r="0.9" stroke-width="1"/>
<circle cx="600.9" cy="442.6" r="0.8" stroke-width="1"/>
<path d="M568.4 416.1 L570.6 419.4" stroke-width="1"/>
<circle cx="608.3" cy="435.4" r="1.6" stroke-width="1"/>
<path d="M615.6 426.8 L612 427.3" stroke-width="1"/>
<path d="M576.1 438.4 L579.9 442.8" stroke-width="1"/>
<circle cx="596.4" cy="420.2" r="1.1" stroke-width="1"/>
<path d="M575.1 455.3 L574.4 457.4" stroke-width="1"/>
<circle cx="559.1" cy="425.5" r="1.6" stroke-width="1"/>
<path d="M585.9 445.3 L588.5 448.1" stroke-width="1"/>
<circle cx="558.7" cy="453.6" r="1.6" stroke-width="1"/>
<path d="M553.6 422.2 L557.1 423.3" stroke-width="1"/>
<path d="M591.6 457.3 C591.8 457.6 592.9 458.3 593 458.9 C593 459.4 592.2 460.4 592 460.7" stroke-width="1"/>
<path d="M609 418.4 L608.8 420.6" stroke-width="1"/>
<path d="M610.9 425.6 C610.6 425.7 609.8 426.5 609.3 426.5 C608.8 426.4 608.1 425.5 607.8 425.3" stroke-width="1"/>
<path d="M581.7 448.9 C582 449 582.9 448.9 583.2 449.2 C583.5 449.5 583.4 450.5 583.5 450.7" stroke-width="1"/>
<path d="M576.8 434.3 L573.1 436.5" stroke-width="1"/>
<path d="M548.4 429 L551.3 431.7" stroke-width="1"/>
<circle cx="562.9" cy="443.9" r="1" stroke-width="1"/>
<path d="M585.9 425.4 C585.9 425 585.4 423.5 585.7 422.9 C586.1 422.3 587.6 422 588 421.8" stroke-width="1"/>
<path d="M566.6 417.8 L569.4 422.7" stroke-width="1"/>
<path d="M590 449.5 C590.1 449.8 590.7 450.4 590.7 450.9 C590.7 451.3 589.9 451.8 589.7 452" stroke-width="1"/>
<path d="M557.9 411.2 L556.5 413.1" stroke-width="1"/>
<path d="M577.4 457.8 L579.9 458.5" stroke-width="1"/>
<path d="M561.5 414.2 C561.1 414.5 559.7 415.8 558.9 415.7 C558.1 415.6 557 414.1 556.6 413.8" stroke-width="1"/>
<path d="M579.3 437.4 L575.5 440.8" stroke-width="1"/>
<path d="M578 426.3 C577.8 426.5 577.2 427.7 576.7 427.8 C576.2 428 575.1 427.3 574.8 427.2" stroke-width="1"/>
<path d="M606.3 446.7 L609.3 446.9" stroke-width="1"/>
<circle cx="573" cy="446.1" r="1" stroke-width="1"/>
<path d="M585.4 454.8 L584.6 456.9" stroke-width="1"/>
<path d="M588.3 427.4 L592.5 429.4" stroke-width="1"/>
<path d="M621 437.7 L618.9 438.9" stroke-width="1"/>
<circle cx="617.9" cy="444.6" r="0.7" stroke-width="1"/>
<path d="M565.7 441.5 L568.5 446.3" stroke-width="1"/>
<circle cx="574.4" cy="434.3" r="1.7" stroke-width="1"/>
<path d="M587.9 440.5 L591.6 444.5" stroke-width="1"/>
<path d="M608.9 423.4 L611.8 426.2" stroke-width="1"/>
<path d="M549.8 416.6 L545.5 417.4" stroke-width="1"/>
<path d="M570.4 447.4 L571.9 451.3" stroke-width="1"/>
<circle cx="562.3" cy="434.7" r="1" stroke-width="1"/>
<path d="M589.9 416.2 L592.6 419.2" stroke-width="1"/>
<circle cx="572.2" cy="445.6" r="1.4" stroke-width="1"/>
<path d="M590.6 433.2 C591 433.1 592.4 432.4 593.1 432.7 C593.7 433 594.2 434.5 594.4 434.9" stroke-width="1"/>
<path d="M606.4 452.4 C606.2 452.8 605.6 454.4 604.9 454.7 C604.2 455.1 602.6 454.3 602.2 454.2" stroke-width="1"/>
<path d="M608.8 429.9 C609.2 429.7 610.5 428.3 611.3 428.4 C612.1 428.4 613.2 429.8 613.6 430.1" stroke-width="1"/>
<path d="M588 437.3 C588 437.6 588.3 438.7 588 439.2 C587.7 439.6 586.6 439.8 586.3 439.9" stroke-width="1"/>
<path d="M551.5 450.8 L548.8 453.9" stroke-width="1"/>
<path d="M603.5 424.4 L605.5 424.9" stroke-width="1"/>
<path d="M582.9 437.6 C582.6 437.8 581.6 439.1 580.9 439.1 C580.2 439.1 579 438 578.7 437.7" stroke-width="1"/>
<path d="M585.4 421.2 C585.4 421 585.1 419.9 585.3 419.5 C585.6 419.1 586.7 418.9 586.9 418.8" stroke-width="1"/>
<path d="M619.5 447.1 L620.7 452" stroke-width="1"/>
<path d="M564 452.1 L562.1 452.7" stroke-width="1"/>
<circle cx="547.5" cy="420.6" r="1" stroke-width="1"/>
<path d="M607.1 429.6 C607.3 429.5 608 428.9 608.4 429 C608.8 429.1 609.3 429.8 609.4 430" stroke-width="1"/>
<path d="M570.4 436.6 L566.8 436.8" stroke-width="1"/>
<path d="M562.8 423.8 L560.6 424.6" stroke-width="1"/>
<path d="M611.1 429.8 C610.6 429.7 608.8 430 608.2 429.5 C607.6 428.9 607.6 427.1 607.5 426.7" stroke-width="1"/>
<path d="M594.6 417.3 L596.6 417.6" stroke-width="1"/>
<path d="M601.5 424.9 L597.3 426.8" stroke-width="1"/>
<path d="M557.5 449 L557.8 450.8" stroke-width="1"/>
<path d="M564.1 424.6 L566 425.9" stroke-width="1"/>
<path d="M565 447 L566.7 451.1" stroke-width="1"/>
<circle cx="613.4" cy="442.3" r="0.9" stroke-width="1"/>
<circle cx="616.5" cy="447.1" r="1.3" stroke-width="1"/>
<path d="M580.3 438.4 L584.4 439" stroke-width="1"/>
<path d="M568.7 421 L571.3 421.8" stroke-width="1"/>
<circle cx="603.8" cy="420.7" r="1.2" stroke-width="1"/>
<path d="M583.6 451.5 C583.6 451.9 583.7 453.3 583.3 453.7 C582.9 454.2 581.5 454.1 581.1 454.2" stroke-width="1"/>
<path d="M560.9 440.2 L562.7 444.2" stroke-width="1"/>
<path d="M605.8 437.7 L601.8 439.8" stroke-width="1"/>
<circle cx="560.4" cy="454.2" r="1.3" stroke-width="1"/>
<path d="M565 432.9 L561.1 436" stroke-width="1"/>
<circle cx="565" cy="436" r="1.3" stroke-width="1"/>
<path d="M591.9 450.1 L589.8 451.1" stroke-width="1"/>
<path d="M584.2 435 C583.9 434.7 582.3 434 582.1 433.3 C581.9 432.5 582.8 431.1 582.9 430.6" stroke-width="1"/>
<path d="M589.8 439.4 L591.5 440.9" stroke-width="1"/>
<path d="M570.9 444.3 L573.6 447.3" stroke-width="1"/>
<circle cx="560.2" cy="421.3" r="1.4" stroke-width="1"/>
<path d="M552.6 433.7 C552.1 433.5 550.2 433.2 549.8 432.5 C549.3 431.8 549.8 430 549.8 429.5" stroke-width="1"/>
<path d="M550.6 436 L548.4 436.1" stroke-width="1"/>
<circle cx="581.4" cy="452" r="0.9" stroke-width="1"/>
<path d="M577.8 424.6 C577.6 424.7 577 425.3 576.6 425.2 C576.2 425.2 575.7 424.5 575.5 424.3" stroke-width="1"/>
<circle cx="602.1" cy="419.7" r="1.2" stroke-width="1"/>
<path d="M565.5 434.3 L566.7 437" stroke-width="1"/>
<circle cx="620.6" cy="443.6" r="1.1" stroke-width="1"/>
<path d="M573 448.9 L571.5 454.1" stroke-width="1"/>
<path d="M581.9 429.9 L583.7 434.5" stroke-width="1"/>
<circle cx="563.5" cy="427.1" r="1.2" stroke-width="1"/>
<circle cx="559.7" cy="418.1" r="1.1" stroke-width="1"/>
<path d="M570.4 433.3 L567.6 437.8" stroke-width="1"/>
<circle cx="562.7" cy="429.3" r="1.4" stroke-width="1"/>
<circle cx="574.5" cy="422.5" r="0.8" stroke-width="1"/>
<path d="M567 430 L565.3 432.1" stroke-width="1"/>
<path d="M574.4 414.9 L576.4 419.3" stroke-width="1"/>
<path d="M551.2 426.8 C550.8 427 549.4 428.2 548.6 428 C547.8 427.9 546.8 426.4 546.5 426.1" stroke-width="1"/>
<path d="M571.7 453.7 L574.9 454.2" stroke-width="1"/>
</g>
<path d="M564.1 419 C564.1 416.6 565.9 413.3 568 412.2 C570.2 411 574.9 410.8 576.9 412.2 C578.8 413.5 580 417.5 579.8 420 C579.6 422.5 577.8 425.7 575.9 426.9 C573.9 428 570 428.2 568 426.9 C566.1 425.6 564.1 421.5 564.1 419 Z" stroke-width="1"/>
<path d="M567.1 420 C567.5 419.3 568.7 416.6 570 416.1 C571.3 415.6 573.9 416.2 574.9 417.1 C575.9 417.9 576.4 420.2 575.9 421.4 C575.4 422.5 572.6 423.5 572 423.9" stroke-width="1"/>
<path d="M548.4 449.4 L591.6 468 L615.1 458.2" stroke-width="1"/>
<path d="M547.5 452.4 L548.4 456.3 L589.6 470" stroke-width="1"/>
<path d="M587.6 407.3 L621 421.4 L622.9 448.4 L616.1 458.2" stroke-width="1"/>
<!-- 25_rightarm2.py -->
<path d="M487.1 396.6 C486 398.5 484.3 401.3 481.8 406.1 C479.4 411 478 415.7 474.9 421 C471.7 426.2 471 428.5 466.1 432.3 C461.3 436.1 455.7 438 450.5 440.1 C445.2 442.2 442.1 442.2 440 442.7" stroke-width="1"/>
<path d="M471.4 423.6 C469 425.6 462.7 432.1 457.4 435.8 C452.2 439.4 442.9 443.8 440 445.4" stroke-width="1"/>
<path d="M466.1 432.3 L469.6 446.2" stroke-width="1"/>
<path d="M471.4 423.6 C471.5 425.9 472.9 433.6 472.4 437.5 C472 441.4 469.4 445.5 468.8 447.1" stroke-width="1"/>
<path d="M494 407.9 L501 400.9 L502.4 402.3 L495.4 409.6 Z" stroke-width="1"/>
<path d="M481 449.7 L484.4 450.6" stroke-width="1"/>
<path d="M501 451.5 L503.6 452.3" stroke-width="1"/>
<path d="M497.5 465.4 L506.2 461" stroke-width="1"/>
<path d="M448.7 449.7 C450.7 450.3 456.6 452 460.9 453.2 C465.3 454.4 471.5 455.2 474.9 456.7 C478.2 458.1 479.7 459.6 481 461.9 C482.3 464.2 483.1 467.4 482.7 470.6 C482.3 473.8 480.2 477.6 478.3 481.1 C476.5 484.6 474 489.4 471.4 491.5 C468.8 493.7 464.1 493.7 462.7 494.2" stroke-width="1"/>
<path d="M455.7 461.9 C455.3 464 453.1 470.1 453.1 474.1 C453.1 478.2 454.1 483 455.7 486.3 C457.3 489.7 461.5 492.9 462.7 494.2" stroke-width="1"/>
<path d="M457.4 463.7 L474.9 459.3" stroke-width="1"/>
<path d="M460.9 484.6 L482.7 470.6" stroke-width="1"/>
<path d="M474.9 482.8 L509.7 477.6" stroke-width="1"/>
<!-- 30_scribble_left.py -->
<path d="M216.8 560.9 C217.4 560.7 219.3 559.5 220.2 559.8 C221.2 560 222.1 562.1 222.5 562.5" stroke-width="0.8"/>
<circle cx="252.9" cy="544.6" r="3.2" stroke-width="0.8"/>
<path d="M232.3 581.5 L236.9 579.2" stroke-width="0.8"/>
<path d="M254.6 561.5 L260.3 560.3" stroke-width="0.8"/>
<circle cx="239.1" cy="547.3" r="2.9" stroke-width="0.8"/>
<path d="M232.5 574 L228.6 573" stroke-width="0.8"/>
<path d="M250.9 556.5 L253.4 555.6" stroke-width="0.8"/>
<path d="M216.5 588.1 C217 588.1 218.4 587.4 219.1 587.7 C219.8 588 220.2 589.5 220.5 589.9" stroke-width="0.8"/>
<path d="M231.8 551.1 C232.3 550.9 234 549.5 234.9 549.7 C235.8 549.8 237 551.7 237.4 552.1" stroke-width="0.8"/>
<path d="M256.6 571.6 L251.3 571.5" stroke-width="0.8"/>
<path d="M215.1 583.1 L213.9 577.6" stroke-width="0.8"/>
<path d="M217.8 581.2 L223.3 584.3" stroke-width="0.8"/>
<path d="M261.4 533.7 L264.7 534.9" stroke-width="0.8"/>
<circle cx="249.1" cy="583.9" r="2.4" stroke-width="0.8"/>
<path d="M211.5 571.1 C211.7 571.9 212.8 574.6 212.3 575.8 C211.7 576.9 208.9 577.7 208.2 578.1" stroke-width="0.8"/>
<path d="M237.1 593.4 C236.5 593.6 234.9 595.1 234 595 C233 594.9 231.7 593.1 231.3 592.7" stroke-width="0.8"/>
<circle cx="228.8" cy="567.1" r="1.1" stroke-width="0.8"/>
<path d="M254.6 548.1 L256.2 544.1" stroke-width="0.8"/>
<path d="M235.1 569.2 L241.5 567" stroke-width="0.8"/>
<path d="M234.4 555.6 L241.2 556.6" stroke-width="0.8"/>
<circle cx="235.2" cy="563.1" r="1.9" stroke-width="0.8"/>
<circle cx="240.5" cy="568.5" r="2.4" stroke-width="0.8"/>
<path d="M231.2 568.1 C231.8 568.3 234.3 568.5 234.9 569.4 C235.6 570.2 235 572.7 235.1 573.3" stroke-width="0.8"/>
<path d="M240.9 590.5 C241.1 589.9 241.2 587.8 242 587.2 C242.8 586.6 244.9 587 245.5 587" stroke-width="0.8"/>
<path d="M221.8 553.6 C221.7 553 220.7 551 221 550.1 C221.4 549.3 223.5 548.5 223.9 548.2" stroke-width="0.8"/>
<path d="M222.8 552.1 L228.3 550.7" stroke-width="0.8"/>
<circle cx="251" cy="543.3" r="2" stroke-width="0.8"/>
<path d="M224 549.4 L226.2 547.6" stroke-width="0.8"/>
<path d="M224.9 569.6 L227.4 570.3" stroke-width="0.8"/>
<circle cx="251.2" cy="581.7" r="1.6" stroke-width="0.8"/>
<path d="M251.2 569.1 L254.4 570.4" stroke-width="0.8"/>
<path d="M248.2 546.7 C248.2 546.2 247.9 544.3 248.4 543.7 C248.9 543.1 250.8 543 251.2 542.8" stroke-width="0.8"/>
<circle cx="228.9" cy="586.9" r="1" stroke-width="0.8"/>
<path d="M258.8 584.3 L263.3 579.4" stroke-width="0.8"/>
<path d="M218.4 575.7 L218.2 572.3" stroke-width="0.8"/>
<path d="M210.4 564.2 C210.6 564.4 211.4 565.2 211.4 565.7 C211.4 566.2 210.6 566.9 210.4 567.2" stroke-width="0.8"/>
<path d="M256.6 572.4 L252 570.9" stroke-width="0.8"/>
<circle cx="206.7" cy="575.7" r="1.7" stroke-width="0.8"/>
<path d="M246 560.4 C245.9 561 246 563.2 245.3 563.9 C244.6 564.6 242.4 564.4 241.8 564.4" stroke-width="0.8"/>
<path d="M254.3 558.5 L258.7 559.9" stroke-width="0.8"/>
<path d="M251.7 539 L246.7 535.5" stroke-width="0.8"/>
<path d="M206.4 568.2 L209.7 568.9" stroke-width="0.8"/>
<path d="M235.5 555.1 L237.8 555.1" stroke-width="0.8"/>
<path d="M209.8 590.4 L213.4 589.8" stroke-width="0.8"/>
<path d="M223.6 550.5 L226.6 550.7" stroke-width="0.8"/>
<path d="M238.8 574.8 C238.5 574.9 237.5 575.9 236.9 575.8 C236.2 575.7 235.5 574.5 235.2 574.3" stroke-width="0.8"/>
<path d="M226.9 566.7 L231.1 563.8" stroke-width="0.8"/>
<path d="M230.2 551.8 L231.5 546.5" stroke-width="0.8"/>
<path d="M231.8 543.7 L235.8 542.8" stroke-width="0.8"/>
<path d="M229.8 584.3 L234.2 580.3" stroke-width="0.8"/>
<circle cx="220.7" cy="557.7" r="2.8" stroke-width="0.8"/>
<path d="M243.1 584.8 L239.9 581.2" stroke-width="0.8"/>
<circle cx="211.8" cy="565.6" r="1.3" stroke-width="0.8"/>
<circle cx="255.3" cy="539.5" r="2.9" stroke-width="0.8"/>
<path d="M212.8 582 L208 581.3" stroke-width="0.8"/>
<path d="M249 560.7 L254.8 557.4" stroke-width="0.8"/>
<circle cx="237.6" cy="581" r="1.4" stroke-width="0.8"/>
<path d="M220 567.4 L224 567.6" stroke-width="0.8"/>
<circle cx="225.6" cy="554.8" r="2.1" stroke-width="0.8"/>
<path d="M260.5 554.4 L265.7 552" stroke-width="0.8"/>
<path d="M243.7 561.1 L241.1 560.2" stroke-width="0.8"/>
<path d="M211.4 575.9 L217 575.5" stroke-width="0.8"/>
<path d="M217.5 568.8 C217 568.5 214.7 568 214.2 567 C213.7 566.1 214.5 563.9 214.6 563.3" stroke-width="0.8"/>
<path d="M259.4 546.9 L263.2 543.8" stroke-width="0.8"/>
<path d="M208.5 560.9 C208 560.8 206.3 561.1 205.7 560.6 C205.1 560.1 205.1 558.3 205 557.9" stroke-width="0.8"/>
<circle cx="224" cy="577.5" r="3.2" stroke-width="0.8"/>
<path d="M232.9 566.3 L228.8 563.8" stroke-width="0.8"/>
<path d="M233 574.1 L238.9 570.9" stroke-width="0.8"/>
<path d="M219.1 573.9 L216.3 572.5" stroke-width="0.8"/>
<path d="M216.5 573.1 L220.9 568.6" stroke-width="0.8"/>
<path d="M223.6 555.1 L229.1 557.8" stroke-width="0.8"/>
<path d="M222.3 550.8 L226 550.7" stroke-width="0.8"/>
<circle cx="230.4" cy="559.1" r="2.3" stroke-width="0.8"/>
<path d="M259.5 553 L264.7 554" stroke-width="0.8"/>
<path d="M212.3 584.8 L215 582" stroke-width="0.8"/>
<path d="M247.8 573.6 C248.4 573.6 250.7 573.4 251.4 574 C252.2 574.7 252.2 577 252.3 577.6" stroke-width="0.8"/>
<path d="M251.1 545 L248.7 541" stroke-width="0.8"/>
<path d="M211.7 556.3 C212.3 556.6 214.6 556.9 215.1 557.8 C215.7 558.7 215.1 560.9 215 561.6" stroke-width="0.8"/>
<circle cx="242.2" cy="568.4" r="3" stroke-width="0.8"/>
<path d="M257.6 534 C258.1 534.2 260.3 534.6 260.8 535.4 C261.3 536.2 260.7 538.3 260.7 538.9" stroke-width="0.8"/>
<path d="M237.1 569.4 L239.3 570.2" stroke-width="0.8"/>
<path d="M246.1 576.3 L247.5 573.3" stroke-width="0.8"/>
<circle cx="227.5" cy="583.8" r="2.1" stroke-width="0.8"/>
<path d="M218.6 579.5 C218.3 579 217.2 577.6 217.3 576.8 C217.4 576 218.9 575 219.3 574.7" stroke-width="0.8"/>
<path d="M237.4 575.9 C237.5 576.2 238.2 577.3 238.1 577.8 C237.9 578.4 236.8 578.9 236.6 579.2" stroke-width="0.8"/>
<path d="M212.3 577.9 L216.2 579.1" stroke-width="0.8"/>
<path d="M247.6 580.2 L251.3 581.7" stroke-width="0.8"/>
<path d="M216.8 561.8 L222.6 563.1" stroke-width="0.8"/>
<path d="M207.7 579.4 L209.4 575" stroke-width="0.8"/>
<path d="M238.7 568.6 L242.4 563.5" stroke-width="0.8"/>
<path d="M253.6 588.8 L258.1 586" stroke-width="0.8"/>
<path d="M254.3 587.4 L256.4 587" stroke-width="0.8"/>
<path d="M251.3 588 C251.9 587.6 253.9 585.5 255.2 585.5 C256.5 585.6 258.3 587.8 258.9 588.3" stroke-width="0.8"/>
<circle cx="281.3" cy="589.2" r="1.8" stroke-width="0.8"/>
<path d="M239.1 593.7 L242.9 590.5" stroke-width="0.8"/>
<path d="M293.4 590.9 L298.9 587.1" stroke-width="0.8"/>
<path d="M287.5 585.9 L289.5 586.8" stroke-width="0.8"/>
<path d="M224.5 586.9 L229.7 586.8" stroke-width="0.8"/>
<path d="M237.4 586.4 L243.6 588.5" stroke-width="0.8"/>
<path d="M271.7 584 C272.1 583.6 273.2 581.7 274.2 581.5 C275.1 581.4 276.9 582.7 277.4 583" stroke-width="0.8"/>
<circle cx="228.8" cy="592.1" r="2" stroke-width="0.8"/>
<circle cx="246.7" cy="590.7" r="1.9" stroke-width="0.8"/>
<circle cx="296.9" cy="581.9" r="2" stroke-width="0.8"/>
<path d="M226 590.4 C225.7 590.4 224.6 590.9 224.2 590.7 C223.7 590.5 223.4 589.4 223.2 589.1" stroke-width="0.8"/>
<path d="M280.9 586.4 L284.2 587.1" stroke-width="0.8"/>
<path d="M286.1 591.2 C285.5 591.4 283.6 592.8 282.6 592.6 C281.6 592.4 280.4 590.3 280 589.8" stroke-width="0.8"/>
<circle cx="297.2" cy="588.7" r="1.1" stroke-width="0.8"/>
<path d="M228.1 595.5 L221.6 593.8" stroke-width="0.8"/>
<path d="M225.7 591.3 L224.6 584.8" stroke-width="0.8"/>
<circle cx="242.7" cy="585.5" r="2.7" stroke-width="0.8"/>
<path d="M225.3 591 L226.8 586.8" stroke-width="0.8"/>
<circle cx="223.9" cy="590.8" r="2" stroke-width="0.8"/>
<circle cx="278.3" cy="590.2" r="1.5" stroke-width="0.8"/>
<path d="M285.9 589.6 L286.9 583.2" stroke-width="0.8"/>
<path d="M278.3 585.1 C277.9 585.4 276.5 586.6 275.7 586.6 C274.9 586.5 273.9 585 273.5 584.7" stroke-width="0.8"/>
<circle cx="217.3" cy="589.7" r="1.1" stroke-width="0.8"/>
<path d="M223.7 589.6 L230.4 591.3" stroke-width="0.8"/>
<path d="M230.4 585.1 C230.8 585.5 232.7 586.6 232.9 587.6 C233.1 588.5 231.7 590.3 231.4 590.8" stroke-width="0.8"/>
<circle cx="281" cy="587.6" r="1.4" stroke-width="0.8"/>
<circle cx="217.1" cy="592.9" r="1.1" stroke-width="0.8"/>
<path d="M284.7 589.1 L281.2 587.6" stroke-width="0.8"/>
<circle cx="264.3" cy="586" r="2.8" stroke-width="0.8"/>
<circle cx="263.5" cy="592.7" r="2.2" stroke-width="0.8"/>
<circle cx="251.8" cy="591.1" r="1.8" stroke-width="0.8"/>
<path d="M257.9 588.7 C258.5 588.7 260.6 588.1 261.4 588.6 C262.2 589.1 262.6 591.3 262.8 591.8" stroke-width="0.8"/>
<path d="M301.4 585.1 C301.1 585.3 299.9 586.2 299.3 586.1 C298.6 586 297.9 584.7 297.6 584.5" stroke-width="0.8"/>
<path d="M224.9 594.8 L219.8 594.5" stroke-width="0.8"/>
<path d="M297.5 586.4 C297.3 587.1 297.3 589.9 296.4 590.7 C295.4 591.4 292.7 591 291.9 591.1" stroke-width="0.8"/>
<path d="M295.5 586.7 L299.6 581.6" stroke-width="0.8"/>
<circle cx="236.3" cy="594.8" r="1.2" stroke-width="0.8"/>
<path d="M305.3 547.4 L311 546.6" stroke-width="0.8"/>
<path d="M294.4 547.3 C295 547.6 297.4 548.4 297.8 549.4 C298.3 550.4 297.2 552.6 297.1 553.3" stroke-width="0.8"/>
<path d="M293.4 543.5 C293.5 543.2 293.2 542 293.5 541.6 C293.8 541.1 295 541 295.3 540.9" stroke-width="0.8"/>
<path d="M291.7 559.1 L285.3 558.7" stroke-width="0.8"/>
<path d="M294.1 544.7 C294.3 544.2 294.5 542.1 295.3 541.6 C296 541.1 298 541.6 298.6 541.6" stroke-width="0.8"/>
<path d="M301 549 L307.4 548.4" stroke-width="0.8"/>
<circle cx="307.4" cy="547.4" r="2.8" stroke-width="0.8"/>
<path d="M288.2 543.3 L290.4 544.1" stroke-width="0.8"/>
<path d="M292.9 559.2 L287.5 554.9" stroke-width="0.8"/>
<circle cx="288.8" cy="544.6" r="2" stroke-width="0.8"/>
<path d="M296.1 541.3 L299.3 541.7" stroke-width="0.8"/>
<path d="M309.8 551.2 C309.4 551.5 308.3 553 307.5 553.1 C306.7 553.2 305.3 551.9 304.9 551.6" stroke-width="0.8"/>
<path d="M303.1 556.9 L305 555" stroke-width="0.8"/>
<path d="M306.2 559.7 L305.7 556.4" stroke-width="0.8"/>
<path d="M292 540.4 L287.9 539.2" stroke-width="0.8"/>
<path d="M304 563.2 L305.2 558.8" stroke-width="0.8"/>
<path d="M292.1 544.6 L291.5 540.6" stroke-width="0.8"/>
<path d="M296.4 551.4 L298.3 549.3" stroke-width="0.8"/>
<path d="M297.8 550 C298 550.7 299.5 552.9 299.2 554 C298.9 555.1 296.5 556.3 296 556.8" stroke-width="0.8"/>
<circle cx="310.4" cy="555.3" r="2.3" stroke-width="0.8"/>
<path d="M300.2 548.4 C300.9 548.6 303.7 548.9 304.4 549.9 C305.1 550.9 304.5 553.6 304.5 554.3" stroke-width="0.8"/>
<path d="M286.6 556.4 C287 555.8 288.2 553.3 289.4 553 C290.5 552.6 292.9 554.1 293.6 554.3" stroke-width="0.8"/>
<circle cx="311" cy="556.1" r="3" stroke-width="0.8"/>
<path d="M292.3 549.6 L299 550.9" stroke-width="0.8"/>
<path d="M310.3 549.8 C310 549.5 308.9 548.8 308.8 548.3 C308.7 547.7 309.5 546.7 309.7 546.3" stroke-width="0.8"/>
</g>
</svg>
<svg id="txt" viewBox="0 0 918 1188" style="position:absolute;left:0;top:0;width:918px;height:1188px;will-change:transform;transform:translateZ(0)" fill="#fff" stroke="none" text-rendering="geometricPrecision" xml:space="preserve">
<text class="sb" x="118.50" y="863.70" font-size="13.4" letter-spacing="-0.162">Item</text>
<text class="sb" x="164.10" y="863.70" font-size="13.4" word-spacing="1.125">Part Number</text>
<text class="sb" x="262.10" y="863.70" font-size="13.4" letter-spacing="0.021">Description</text>
<text class="r" x="132.90" y="885.80" font-size="13.2">1</text>
<text class="r" x="160.40" y="885.80" font-size="13.2" letter-spacing="0.312">—</text>
<text class="r" x="261.70" y="885.80" font-size="13.2" word-spacing="3.031">Cable-to-cable union</text>
<text class="r" x="132.90" y="905.80" font-size="13.2">2</text>
<text class="r" x="160.70" y="905.80" font-size="13.2" letter-spacing="-0.041">2A793</text>
<text class="r" x="261.70" y="905.70" font-size="13.2" word-spacing="2.952">Intermediate parking brake</text>
<text class="r" x="261.70" y="920.50" font-size="13.2" letter-spacing="0.034">cable</text>
<text class="r" x="132.70" y="940.60" font-size="13.2">3</text>
<text class="r" x="161.20" y="940.60" font-size="13.2" letter-spacing="0.012">W505255</text>
<text class="r" x="261.70" y="940.60" font-size="13.2" word-spacing="2.391">Parking brake cable bracket</text>
<text class="r" x="261.70" y="955.10" font-size="13.2" word-spacing="2.239">bolt (2 required)</text>
<text class="r" x="116.30" y="973.40" font-size="10.7" letter-spacing="0.022">(Continued)</text>
<text class="sb" x="475.90" y="863.80" font-size="13.4" letter-spacing="-0.262">Item</text>
<text class="sb" x="521.20" y="863.80" font-size="13.4" word-spacing="0.325">Part Number</text>
<text class="sb" x="618.00" y="863.80" font-size="13.4" letter-spacing="0.012">Description</text>
<text class="r" x="489.40" y="884.50" font-size="13.2">4</text>
<text class="r" x="516.30" y="884.50" font-size="13.2" letter-spacing="1.013">—</text>
<text class="r" x="618.00" y="884.40" font-size="13.2" word-spacing="2.702">Intermediate parking brake</text>
<text class="r" x="618.00" y="898.70" font-size="13.2" word-spacing="2.410">cable to RH cable-to-cable</text>
<text class="r" x="618.00" y="913.90" font-size="13.2" letter-spacing="-0.029">union</text>
<text class="r" x="489.40" y="934.30" font-size="13.2">5</text>
<text class="r" x="517.80" y="934.30" font-size="13.2" letter-spacing="-0.059">W520213</text>
<text class="r" x="618.00" y="934.30" font-size="13.2" word-spacing="2.400">Upper control arm parking</text>
<text class="r" x="618.00" y="948.60" font-size="13.2" word-spacing="2.266">brake cable bracket nut (2</text>
<text class="r" x="618.00" y="963.60" font-size="13.2" letter-spacing="0.130">required)</text>
<text class="r" x="489.40" y="983.50" font-size="13.2">6</text>
<text class="r" x="516.90" y="983.50" font-size="13.2">2A635</text>
<text class="r" x="618.00" y="983.60" font-size="13.2" word-spacing="2.125">Parking brake cable (RH)</text>
<text class="r" x="473.20" y="1002.00" font-size="10.7" letter-spacing="-0.041">(Continued)</text>
<text class="sb" x="110.60" y="130.60" font-size="17.3" word-spacing="2.309">Parking Brake — Exploded View</text>
<text class="s" x="159.20" y="321.20" font-size="13.3" word-spacing="-0.658">37 Nm (27 lb-ft)</text>
<text class="s" x="498.80" y="251.30" font-size="13.3" word-spacing="-0.292">37 Nm (27 lb-ft)</text>
<text class="s" x="617.00" y="359.20" font-size="13.3" word-spacing="-0.861">12 Nm (9 lb-ft)</text>
<text class="s" x="651.40" y="505.20" font-size="13.3" word-spacing="-0.761">12 Nm (9 lb-ft)</text>
<text class="s" x="269.00" y="321.40" font-size="13.3">5</text>
<text class="s" x="230.60" y="365.90" font-size="13.3">6</text>
<text class="s" x="353.80" y="358.80" font-size="13.3">4</text>
<text class="s" x="472.80" y="251.70" font-size="13.3">5</text>
<text class="s" x="655.50" y="251.20" font-size="13.3">7</text>
<text class="s" x="720.80" y="359.80" font-size="13.3">3</text>
<text class="s" x="688.80" y="533.30" font-size="13.3">8</text>
<text class="s" x="461.10" y="668.30" font-size="13.3">2</text>
<text class="s" x="700.60" y="635.60" font-size="13.3">1</text>
<text class="s" x="126.50" y="818.90" font-size="10.6">N0052349</text>
</svg>
</body></html>
